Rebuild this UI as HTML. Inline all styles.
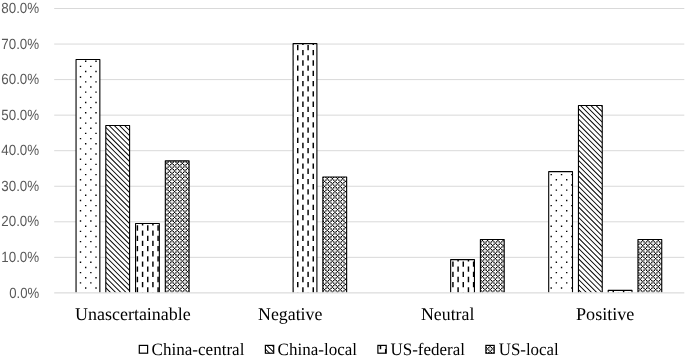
<!DOCTYPE html>
<html><head><meta charset="utf-8"><title>Chart</title>
<style>html,body{margin:0;padding:0;background:#fff}svg{display:block;filter:grayscale(1)}text{text-rendering:geometricPrecision}
.ax{font-family:"Liberation Sans",sans-serif;font-size:14.8px;fill:#595959}
.cat{font-family:"Liberation Serif",serif;font-size:18px;fill:#000}
.leg{font-family:"Liberation Serif",serif;font-size:17.4px;fill:#000}
</style></head><body>
<svg width="685" height="359" viewBox="0 0 685 359">
<rect width="685" height="359" fill="#fff"/>
<g stroke="#d9d9d9" stroke-width="1">
<line x1="54.2" x2="684.3" y1="8.50" y2="8.50"/>
<line x1="54.2" x2="684.3" y1="44.05" y2="44.05"/>
<line x1="54.2" x2="684.3" y1="79.60" y2="79.60"/>
<line x1="54.2" x2="684.3" y1="115.15" y2="115.15"/>
<line x1="54.2" x2="684.3" y1="150.70" y2="150.70"/>
<line x1="54.2" x2="684.3" y1="186.25" y2="186.25"/>
<line x1="54.2" x2="684.3" y1="221.80" y2="221.80"/>
<line x1="54.2" x2="684.3" y1="257.35" y2="257.35"/>
</g>
<rect x="76.05" y="59.55" width="23.8" height="232.9" fill="#fff"/>
<path d="M84.98 60.55h1.39v1.39h-1.39zM95.32 60.55h1.39v1.39h-1.39zM79.8 65.71h1.39v1.39h-1.39zM84.98 70.86h1.39v1.39h-1.39zM90.15 65.71h1.39v1.39h-1.39zM95.32 70.86h1.39v1.39h-1.39zM79.8 76.02h1.39v1.39h-1.39zM84.98 81.17h1.39v1.39h-1.39zM90.15 76.02h1.39v1.39h-1.39zM95.32 81.17h1.39v1.39h-1.39zM79.8 86.33h1.39v1.39h-1.39zM84.98 91.48h1.39v1.39h-1.39zM90.15 86.33h1.39v1.39h-1.39zM95.32 91.48h1.39v1.39h-1.39zM79.8 96.64h1.39v1.39h-1.39zM84.98 101.79h1.39v1.39h-1.39zM90.15 96.64h1.39v1.39h-1.39zM95.32 101.79h1.39v1.39h-1.39zM79.8 106.95h1.39v1.39h-1.39zM84.98 112.1h1.39v1.39h-1.39zM90.15 106.95h1.39v1.39h-1.39zM95.32 112.1h1.39v1.39h-1.39zM79.8 117.26h1.39v1.39h-1.39zM84.98 122.41h1.39v1.39h-1.39zM90.15 117.26h1.39v1.39h-1.39zM95.32 122.41h1.39v1.39h-1.39zM79.8 127.57h1.39v1.39h-1.39zM84.98 132.72h1.39v1.39h-1.39zM90.15 127.57h1.39v1.39h-1.39zM95.32 132.72h1.39v1.39h-1.39zM79.8 137.88h1.39v1.39h-1.39zM84.98 143.03h1.39v1.39h-1.39zM90.15 137.88h1.39v1.39h-1.39zM95.32 143.03h1.39v1.39h-1.39zM79.8 148.19h1.39v1.39h-1.39zM84.98 153.34h1.39v1.39h-1.39zM90.15 148.19h1.39v1.39h-1.39zM95.32 153.34h1.39v1.39h-1.39zM79.8 158.5h1.39v1.39h-1.39zM84.98 163.65h1.39v1.39h-1.39zM90.15 158.5h1.39v1.39h-1.39zM95.32 163.65h1.39v1.39h-1.39zM79.8 168.81h1.39v1.39h-1.39zM84.98 173.96h1.39v1.39h-1.39zM90.15 168.81h1.39v1.39h-1.39zM95.32 173.96h1.39v1.39h-1.39zM79.8 179.12h1.39v1.39h-1.39zM84.98 184.27h1.39v1.39h-1.39zM90.15 179.12h1.39v1.39h-1.39zM95.32 184.27h1.39v1.39h-1.39zM79.8 189.43h1.39v1.39h-1.39zM84.98 194.58h1.39v1.39h-1.39zM90.15 189.43h1.39v1.39h-1.39zM95.32 194.58h1.39v1.39h-1.39zM79.8 199.74h1.39v1.39h-1.39zM84.98 204.89h1.39v1.39h-1.39zM90.15 199.74h1.39v1.39h-1.39zM95.32 204.89h1.39v1.39h-1.39zM79.8 210.05h1.39v1.39h-1.39zM84.98 215.2h1.39v1.39h-1.39zM90.15 210.05h1.39v1.39h-1.39zM95.32 215.2h1.39v1.39h-1.39zM79.8 220.36h1.39v1.39h-1.39zM84.98 225.51h1.39v1.39h-1.39zM90.15 220.36h1.39v1.39h-1.39zM95.32 225.51h1.39v1.39h-1.39zM79.8 230.67h1.39v1.39h-1.39zM84.98 235.82h1.39v1.39h-1.39zM90.15 230.67h1.39v1.39h-1.39zM95.32 235.82h1.39v1.39h-1.39zM79.8 240.98h1.39v1.39h-1.39zM84.98 246.13h1.39v1.39h-1.39zM90.15 240.98h1.39v1.39h-1.39zM95.32 246.13h1.39v1.39h-1.39zM79.8 251.29h1.39v1.39h-1.39zM84.98 256.44h1.39v1.39h-1.39zM90.15 251.29h1.39v1.39h-1.39zM95.32 256.44h1.39v1.39h-1.39zM79.8 261.6h1.39v1.39h-1.39zM84.98 266.75h1.39v1.39h-1.39zM90.15 261.6h1.39v1.39h-1.39zM95.32 266.75h1.39v1.39h-1.39zM79.8 271.91h1.39v1.39h-1.39zM84.98 277.06h1.39v1.39h-1.39zM90.15 271.91h1.39v1.39h-1.39zM95.32 277.06h1.39v1.39h-1.39zM79.8 282.22h1.39v1.39h-1.39zM84.98 287.37h1.39v1.39h-1.39zM90.15 282.22h1.39v1.39h-1.39zM95.32 287.37h1.39v1.39h-1.39z" fill="#000"/>
<path d="M76.05 292.45V59.55H99.85V292.45" fill="none" stroke="#000" stroke-width="1.1" stroke-linejoin="round"/>
<rect x="105.8" y="125.55" width="23.8" height="166.9" fill="#fff"/>
<clipPath id="c1"><rect x="105.8" y="125.55" width="23.8" height="166.9"/></clipPath>
<path clip-path="url(#c1)" d="M-69.43 123.55L-68.08 123.55L102.82 294.45L101.47 294.45zM-64.25 123.55L-62.91 123.55L107.99 294.45L106.65 294.45zM-59.08 123.55L-57.74 123.55L113.16 294.45L111.82 294.45zM-53.91 123.55L-52.57 123.55L118.33 294.45L116.99 294.45zM-48.74 123.55L-47.39 123.55L123.51 294.45L122.16 294.45zM-43.56 123.55L-42.22 123.55L128.68 294.45L127.34 294.45zM-38.39 123.55L-37.05 123.55L133.85 294.45L132.51 294.45zM-33.22 123.55L-31.88 123.55L139.02 294.45L137.68 294.45zM-28.05 123.55L-26.7 123.55L144.2 294.45L142.85 294.45zM-22.87 123.55L-21.53 123.55L149.37 294.45L148.03 294.45zM-17.7 123.55L-16.36 123.55L154.54 294.45L153.2 294.45zM-12.53 123.55L-11.19 123.55L159.71 294.45L158.37 294.45zM-7.36 123.55L-6.01 123.55L164.89 294.45L163.54 294.45zM-2.18 123.55L-0.84 123.55L170.06 294.45L168.72 294.45zM2.99 123.55L4.33 123.55L175.23 294.45L173.89 294.45zM8.16 123.55L9.5 123.55L180.4 294.45L179.06 294.45zM13.33 123.55L14.68 123.55L185.58 294.45L184.23 294.45zM18.51 123.55L19.85 123.55L190.75 294.45L189.41 294.45zM23.68 123.55L25.02 123.55L195.92 294.45L194.58 294.45zM28.85 123.55L30.19 123.55L201.09 294.45L199.75 294.45zM34.02 123.55L35.37 123.55L206.27 294.45L204.92 294.45zM39.2 123.55L40.54 123.55L211.44 294.45L210.1 294.45zM44.37 123.55L45.71 123.55L216.61 294.45L215.27 294.45zM49.54 123.55L50.88 123.55L221.78 294.45L220.44 294.45zM54.71 123.55L56.06 123.55L226.96 294.45L225.61 294.45zM59.89 123.55L61.23 123.55L232.13 294.45L230.79 294.45zM65.06 123.55L66.4 123.55L237.3 294.45L235.96 294.45zM70.23 123.55L71.57 123.55L242.47 294.45L241.13 294.45zM75.4 123.55L76.75 123.55L247.65 294.45L246.3 294.45zM80.58 123.55L81.92 123.55L252.82 294.45L251.48 294.45zM85.75 123.55L87.09 123.55L257.99 294.45L256.65 294.45zM90.92 123.55L92.26 123.55L263.16 294.45L261.82 294.45zM96.09 123.55L97.44 123.55L268.34 294.45L266.99 294.45zM101.27 123.55L102.61 123.55L273.51 294.45L272.17 294.45zM106.44 123.55L107.78 123.55L278.68 294.45L277.34 294.45zM111.61 123.55L112.95 123.55L283.85 294.45L282.51 294.45zM116.78 123.55L118.13 123.55L289.03 294.45L287.68 294.45zM121.96 123.55L123.3 123.55L294.2 294.45L292.86 294.45zM127.13 123.55L128.47 123.55L299.37 294.45L298.03 294.45zM132.3 123.55L133.64 123.55L304.54 294.45L303.2 294.45z" fill="#000"/>
<path d="M105.8 292.45V125.55H129.6V292.45" fill="none" stroke="#000" stroke-width="1.1" stroke-linejoin="round"/>
<rect x="135.55" y="223.55" width="23.8" height="68.9" fill="#fff"/>
<path d="M141.85 223.55h1.45v1.93h-1.45zM152.19 223.55h1.45v1.93h-1.45zM136.67 225.32h1.45v5.31h-1.45zM141.85 230.47h1.45v5.31h-1.45zM147.02 225.32h1.45v5.31h-1.45zM152.19 230.47h1.45v5.31h-1.45zM157.36 225.32h1.45v5.31h-1.45zM136.67 235.63h1.45v5.31h-1.45zM141.85 240.78h1.45v5.31h-1.45zM147.02 235.63h1.45v5.31h-1.45zM152.19 240.78h1.45v5.31h-1.45zM157.36 235.63h1.45v5.31h-1.45zM136.67 245.94h1.45v5.31h-1.45zM141.85 251.09h1.45v5.32h-1.45zM147.02 245.94h1.45v5.31h-1.45zM152.19 251.09h1.45v5.32h-1.45zM157.36 245.94h1.45v5.31h-1.45zM136.67 256.25h1.45v5.31h-1.45zM141.85 261.4h1.45v5.31h-1.45zM147.02 256.25h1.45v5.31h-1.45zM152.19 261.4h1.45v5.31h-1.45zM157.36 256.25h1.45v5.31h-1.45zM136.67 266.56h1.45v5.31h-1.45zM141.85 271.71h1.45v5.31h-1.45zM147.02 266.56h1.45v5.31h-1.45zM152.19 271.71h1.45v5.31h-1.45zM157.36 266.56h1.45v5.31h-1.45zM136.67 276.87h1.45v5.31h-1.45zM141.85 282.02h1.45v5.31h-1.45zM147.02 276.87h1.45v5.31h-1.45zM152.19 282.02h1.45v5.31h-1.45zM157.36 276.87h1.45v5.31h-1.45zM136.67 287.18h1.45v5.27h-1.45zM141.85 292.33h1.45v0.12h-1.45zM147.02 287.18h1.45v5.27h-1.45zM152.19 292.33h1.45v0.12h-1.45zM157.36 287.18h1.45v5.27h-1.45z" fill="#000"/>
<path d="M135.55 292.45V223.55H159.35V292.45" fill="none" stroke="#000" stroke-width="1.1" stroke-linejoin="round"/>
<rect x="165.3" y="160.85" width="23.8" height="131.6" fill="#fff"/>
<path d="M165.3 161.33h0.92v1.3h-0.92zM166.21 162.62h1.3v1.3h-1.3zM167.51 163.91h1.3v1.3h-1.3zM167.51 161.33h1.3v1.3h-1.3zM165.3 163.91h0.92v1.3h-0.92zM168.8 160.85h1.3v0.49h-1.3zM170.09 161.33h1.3v1.3h-1.3zM171.38 162.62h1.3v1.3h-1.3zM172.68 163.91h1.3v1.3h-1.3zM172.68 161.33h1.3v1.3h-1.3zM170.09 163.91h1.3v1.3h-1.3zM173.97 160.85h1.3v0.49h-1.3zM175.26 161.33h1.3v1.3h-1.3zM176.56 162.62h1.3v1.3h-1.3zM177.85 163.91h1.3v1.3h-1.3zM177.85 161.33h1.3v1.3h-1.3zM175.26 163.91h1.3v1.3h-1.3zM179.14 160.85h1.3v0.49h-1.3zM180.44 161.33h1.3v1.3h-1.3zM181.73 162.62h1.3v1.3h-1.3zM183.02 163.91h1.3v1.3h-1.3zM183.02 161.33h1.3v1.3h-1.3zM180.44 163.91h1.3v1.3h-1.3zM184.32 160.85h1.3v0.49h-1.3zM185.61 161.33h1.3v1.3h-1.3zM186.9 162.62h1.3v1.3h-1.3zM188.2 163.91h0.9v1.3h-0.9zM188.2 161.33h0.9v1.3h-0.9zM185.61 163.91h1.3v1.3h-1.3zM165.3 166.49h0.92v1.3h-0.92zM166.21 167.78h1.3v1.3h-1.3zM167.51 169.07h1.3v1.3h-1.3zM167.51 166.49h1.3v1.3h-1.3zM165.3 169.07h0.92v1.3h-0.92zM168.8 165.2h1.3v1.3h-1.3zM170.09 166.49h1.3v1.3h-1.3zM171.38 167.78h1.3v1.3h-1.3zM172.68 169.07h1.3v1.3h-1.3zM172.68 166.49h1.3v1.3h-1.3zM170.09 169.07h1.3v1.3h-1.3zM173.97 165.2h1.3v1.3h-1.3zM175.26 166.49h1.3v1.3h-1.3zM176.56 167.78h1.3v1.3h-1.3zM177.85 169.07h1.3v1.3h-1.3zM177.85 166.49h1.3v1.3h-1.3zM175.26 169.07h1.3v1.3h-1.3zM179.14 165.2h1.3v1.3h-1.3zM180.44 166.49h1.3v1.3h-1.3zM181.73 167.78h1.3v1.3h-1.3zM183.02 169.07h1.3v1.3h-1.3zM183.02 166.49h1.3v1.3h-1.3zM180.44 169.07h1.3v1.3h-1.3zM184.32 165.2h1.3v1.3h-1.3zM185.61 166.49h1.3v1.3h-1.3zM186.9 167.78h1.3v1.3h-1.3zM188.2 169.07h0.9v1.3h-0.9zM188.2 166.49h0.9v1.3h-0.9zM185.61 169.07h1.3v1.3h-1.3zM165.3 171.64h0.92v1.3h-0.92zM166.21 172.93h1.3v1.3h-1.3zM167.51 174.22h1.3v1.3h-1.3zM167.51 171.64h1.3v1.3h-1.3zM165.3 174.22h0.92v1.3h-0.92zM168.8 170.36h1.3v1.3h-1.3zM170.09 171.64h1.3v1.3h-1.3zM171.38 172.93h1.3v1.3h-1.3zM172.68 174.22h1.3v1.3h-1.3zM172.68 171.64h1.3v1.3h-1.3zM170.09 174.22h1.3v1.3h-1.3zM173.97 170.36h1.3v1.3h-1.3zM175.26 171.64h1.3v1.3h-1.3zM176.56 172.93h1.3v1.3h-1.3zM177.85 174.22h1.3v1.3h-1.3zM177.85 171.64h1.3v1.3h-1.3zM175.26 174.22h1.3v1.3h-1.3zM179.14 170.36h1.3v1.3h-1.3zM180.44 171.64h1.3v1.3h-1.3zM181.73 172.93h1.3v1.3h-1.3zM183.02 174.22h1.3v1.3h-1.3zM183.02 171.64h1.3v1.3h-1.3zM180.44 174.22h1.3v1.3h-1.3zM184.32 170.36h1.3v1.3h-1.3zM185.61 171.64h1.3v1.3h-1.3zM186.9 172.93h1.3v1.3h-1.3zM188.2 174.22h0.9v1.3h-0.9zM188.2 171.64h0.9v1.3h-0.9zM185.61 174.22h1.3v1.3h-1.3zM165.3 176.8h0.92v1.3h-0.92zM166.21 178.09h1.3v1.3h-1.3zM167.51 179.38h1.3v1.3h-1.3zM167.51 176.8h1.3v1.3h-1.3zM165.3 179.38h0.92v1.3h-0.92zM168.8 175.51h1.3v1.3h-1.3zM170.09 176.8h1.3v1.3h-1.3zM171.38 178.09h1.3v1.3h-1.3zM172.68 179.38h1.3v1.3h-1.3zM172.68 176.8h1.3v1.3h-1.3zM170.09 179.38h1.3v1.3h-1.3zM173.97 175.51h1.3v1.3h-1.3zM175.26 176.8h1.3v1.3h-1.3zM176.56 178.09h1.3v1.3h-1.3zM177.85 179.38h1.3v1.3h-1.3zM177.85 176.8h1.3v1.3h-1.3zM175.26 179.38h1.3v1.3h-1.3zM179.14 175.51h1.3v1.3h-1.3zM180.44 176.8h1.3v1.3h-1.3zM181.73 178.09h1.3v1.3h-1.3zM183.02 179.38h1.3v1.3h-1.3zM183.02 176.8h1.3v1.3h-1.3zM180.44 179.38h1.3v1.3h-1.3zM184.32 175.51h1.3v1.3h-1.3zM185.61 176.8h1.3v1.3h-1.3zM186.9 178.09h1.3v1.3h-1.3zM188.2 179.38h0.9v1.3h-0.9zM188.2 176.8h0.9v1.3h-0.9zM185.61 179.38h1.3v1.3h-1.3zM165.3 181.95h0.92v1.3h-0.92zM166.21 183.24h1.3v1.3h-1.3zM167.51 184.53h1.3v1.3h-1.3zM167.51 181.95h1.3v1.3h-1.3zM165.3 184.53h0.92v1.3h-0.92zM168.8 180.67h1.3v1.3h-1.3zM170.09 181.95h1.3v1.3h-1.3zM171.38 183.24h1.3v1.3h-1.3zM172.68 184.53h1.3v1.3h-1.3zM172.68 181.95h1.3v1.3h-1.3zM170.09 184.53h1.3v1.3h-1.3zM173.97 180.67h1.3v1.3h-1.3zM175.26 181.95h1.3v1.3h-1.3zM176.56 183.24h1.3v1.3h-1.3zM177.85 184.53h1.3v1.3h-1.3zM177.85 181.95h1.3v1.3h-1.3zM175.26 184.53h1.3v1.3h-1.3zM179.14 180.67h1.3v1.3h-1.3zM180.44 181.95h1.3v1.3h-1.3zM181.73 183.24h1.3v1.3h-1.3zM183.02 184.53h1.3v1.3h-1.3zM183.02 181.95h1.3v1.3h-1.3zM180.44 184.53h1.3v1.3h-1.3zM184.32 180.67h1.3v1.3h-1.3zM185.61 181.95h1.3v1.3h-1.3zM186.9 183.24h1.3v1.3h-1.3zM188.2 184.53h0.9v1.3h-0.9zM188.2 181.95h0.9v1.3h-0.9zM185.61 184.53h1.3v1.3h-1.3zM165.3 187.11h0.92v1.3h-0.92zM166.21 188.4h1.3v1.3h-1.3zM167.51 189.69h1.3v1.3h-1.3zM167.51 187.11h1.3v1.3h-1.3zM165.3 189.69h0.92v1.3h-0.92zM168.8 185.82h1.3v1.3h-1.3zM170.09 187.11h1.3v1.3h-1.3zM171.38 188.4h1.3v1.3h-1.3zM172.68 189.69h1.3v1.3h-1.3zM172.68 187.11h1.3v1.3h-1.3zM170.09 189.69h1.3v1.3h-1.3zM173.97 185.82h1.3v1.3h-1.3zM175.26 187.11h1.3v1.3h-1.3zM176.56 188.4h1.3v1.3h-1.3zM177.85 189.69h1.3v1.3h-1.3zM177.85 187.11h1.3v1.3h-1.3zM175.26 189.69h1.3v1.3h-1.3zM179.14 185.82h1.3v1.3h-1.3zM180.44 187.11h1.3v1.3h-1.3zM181.73 188.4h1.3v1.3h-1.3zM183.02 189.69h1.3v1.3h-1.3zM183.02 187.11h1.3v1.3h-1.3zM180.44 189.69h1.3v1.3h-1.3zM184.32 185.82h1.3v1.3h-1.3zM185.61 187.11h1.3v1.3h-1.3zM186.9 188.4h1.3v1.3h-1.3zM188.2 189.69h0.9v1.3h-0.9zM188.2 187.11h0.9v1.3h-0.9zM185.61 189.69h1.3v1.3h-1.3zM165.3 192.26h0.92v1.3h-0.92zM166.21 193.55h1.3v1.3h-1.3zM167.51 194.84h1.3v1.3h-1.3zM167.51 192.26h1.3v1.3h-1.3zM165.3 194.84h0.92v1.3h-0.92zM168.8 190.98h1.3v1.3h-1.3zM170.09 192.26h1.3v1.3h-1.3zM171.38 193.55h1.3v1.3h-1.3zM172.68 194.84h1.3v1.3h-1.3zM172.68 192.26h1.3v1.3h-1.3zM170.09 194.84h1.3v1.3h-1.3zM173.97 190.98h1.3v1.3h-1.3zM175.26 192.26h1.3v1.3h-1.3zM176.56 193.55h1.3v1.3h-1.3zM177.85 194.84h1.3v1.3h-1.3zM177.85 192.26h1.3v1.3h-1.3zM175.26 194.84h1.3v1.3h-1.3zM179.14 190.98h1.3v1.3h-1.3zM180.44 192.26h1.3v1.3h-1.3zM181.73 193.55h1.3v1.3h-1.3zM183.02 194.84h1.3v1.3h-1.3zM183.02 192.26h1.3v1.3h-1.3zM180.44 194.84h1.3v1.3h-1.3zM184.32 190.98h1.3v1.3h-1.3zM185.61 192.26h1.3v1.3h-1.3zM186.9 193.55h1.3v1.3h-1.3zM188.2 194.84h0.9v1.3h-0.9zM188.2 192.26h0.9v1.3h-0.9zM185.61 194.84h1.3v1.3h-1.3zM165.3 197.42h0.92v1.3h-0.92zM166.21 198.71h1.3v1.3h-1.3zM167.51 200h1.3v1.3h-1.3zM167.51 197.42h1.3v1.3h-1.3zM165.3 200h0.92v1.3h-0.92zM168.8 196.13h1.3v1.3h-1.3zM170.09 197.42h1.3v1.3h-1.3zM171.38 198.71h1.3v1.3h-1.3zM172.68 200h1.3v1.3h-1.3zM172.68 197.42h1.3v1.3h-1.3zM170.09 200h1.3v1.3h-1.3zM173.97 196.13h1.3v1.3h-1.3zM175.26 197.42h1.3v1.3h-1.3zM176.56 198.71h1.3v1.3h-1.3zM177.85 200h1.3v1.3h-1.3zM177.85 197.42h1.3v1.3h-1.3zM175.26 200h1.3v1.3h-1.3zM179.14 196.13h1.3v1.3h-1.3zM180.44 197.42h1.3v1.3h-1.3zM181.73 198.71h1.3v1.3h-1.3zM183.02 200h1.3v1.3h-1.3zM183.02 197.42h1.3v1.3h-1.3zM180.44 200h1.3v1.3h-1.3zM184.32 196.13h1.3v1.3h-1.3zM185.61 197.42h1.3v1.3h-1.3zM186.9 198.71h1.3v1.3h-1.3zM188.2 200h0.9v1.3h-0.9zM188.2 197.42h0.9v1.3h-0.9zM185.61 200h1.3v1.3h-1.3zM165.3 202.57h0.92v1.3h-0.92zM166.21 203.86h1.3v1.3h-1.3zM167.51 205.15h1.3v1.3h-1.3zM167.51 202.57h1.3v1.3h-1.3zM165.3 205.15h0.92v1.3h-0.92zM168.8 201.29h1.3v1.3h-1.3zM170.09 202.57h1.3v1.3h-1.3zM171.38 203.86h1.3v1.3h-1.3zM172.68 205.15h1.3v1.3h-1.3zM172.68 202.57h1.3v1.3h-1.3zM170.09 205.15h1.3v1.3h-1.3zM173.97 201.29h1.3v1.3h-1.3zM175.26 202.57h1.3v1.3h-1.3zM176.56 203.86h1.3v1.3h-1.3zM177.85 205.15h1.3v1.3h-1.3zM177.85 202.57h1.3v1.3h-1.3zM175.26 205.15h1.3v1.3h-1.3zM179.14 201.29h1.3v1.3h-1.3zM180.44 202.57h1.3v1.3h-1.3zM181.73 203.86h1.3v1.3h-1.3zM183.02 205.15h1.3v1.3h-1.3zM183.02 202.57h1.3v1.3h-1.3zM180.44 205.15h1.3v1.3h-1.3zM184.32 201.29h1.3v1.3h-1.3zM185.61 202.57h1.3v1.3h-1.3zM186.9 203.86h1.3v1.3h-1.3zM188.2 205.15h0.9v1.3h-0.9zM188.2 202.57h0.9v1.3h-0.9zM185.61 205.15h1.3v1.3h-1.3zM165.3 207.73h0.92v1.3h-0.92zM166.21 209.02h1.3v1.3h-1.3zM167.51 210.31h1.3v1.3h-1.3zM167.51 207.73h1.3v1.3h-1.3zM165.3 210.31h0.92v1.3h-0.92zM168.8 206.44h1.3v1.3h-1.3zM170.09 207.73h1.3v1.3h-1.3zM171.38 209.02h1.3v1.3h-1.3zM172.68 210.31h1.3v1.3h-1.3zM172.68 207.73h1.3v1.3h-1.3zM170.09 210.31h1.3v1.3h-1.3zM173.97 206.44h1.3v1.3h-1.3zM175.26 207.73h1.3v1.3h-1.3zM176.56 209.02h1.3v1.3h-1.3zM177.85 210.31h1.3v1.3h-1.3zM177.85 207.73h1.3v1.3h-1.3zM175.26 210.31h1.3v1.3h-1.3zM179.14 206.44h1.3v1.3h-1.3zM180.44 207.73h1.3v1.3h-1.3zM181.73 209.02h1.3v1.3h-1.3zM183.02 210.31h1.3v1.3h-1.3zM183.02 207.73h1.3v1.3h-1.3zM180.44 210.31h1.3v1.3h-1.3zM184.32 206.44h1.3v1.3h-1.3zM185.61 207.73h1.3v1.3h-1.3zM186.9 209.02h1.3v1.3h-1.3zM188.2 210.31h0.9v1.3h-0.9zM188.2 207.73h0.9v1.3h-0.9zM185.61 210.31h1.3v1.3h-1.3zM165.3 212.88h0.92v1.3h-0.92zM166.21 214.17h1.3v1.3h-1.3zM167.51 215.46h1.3v1.3h-1.3zM167.51 212.88h1.3v1.3h-1.3zM165.3 215.46h0.92v1.3h-0.92zM168.8 211.6h1.3v1.3h-1.3zM170.09 212.88h1.3v1.3h-1.3zM171.38 214.17h1.3v1.3h-1.3zM172.68 215.46h1.3v1.3h-1.3zM172.68 212.88h1.3v1.3h-1.3zM170.09 215.46h1.3v1.3h-1.3zM173.97 211.6h1.3v1.3h-1.3zM175.26 212.88h1.3v1.3h-1.3zM176.56 214.17h1.3v1.3h-1.3zM177.85 215.46h1.3v1.3h-1.3zM177.85 212.88h1.3v1.3h-1.3zM175.26 215.46h1.3v1.3h-1.3zM179.14 211.6h1.3v1.3h-1.3zM180.44 212.88h1.3v1.3h-1.3zM181.73 214.17h1.3v1.3h-1.3zM183.02 215.46h1.3v1.3h-1.3zM183.02 212.88h1.3v1.3h-1.3zM180.44 215.46h1.3v1.3h-1.3zM184.32 211.6h1.3v1.3h-1.3zM185.61 212.88h1.3v1.3h-1.3zM186.9 214.17h1.3v1.3h-1.3zM188.2 215.46h0.9v1.3h-0.9zM188.2 212.88h0.9v1.3h-0.9zM185.61 215.46h1.3v1.3h-1.3zM165.3 218.04h0.92v1.3h-0.92zM166.21 219.33h1.3v1.3h-1.3zM167.51 220.62h1.3v1.3h-1.3zM167.51 218.04h1.3v1.3h-1.3zM165.3 220.62h0.92v1.3h-0.92zM168.8 216.75h1.3v1.3h-1.3zM170.09 218.04h1.3v1.3h-1.3zM171.38 219.33h1.3v1.3h-1.3zM172.68 220.62h1.3v1.3h-1.3zM172.68 218.04h1.3v1.3h-1.3zM170.09 220.62h1.3v1.3h-1.3zM173.97 216.75h1.3v1.3h-1.3zM175.26 218.04h1.3v1.3h-1.3zM176.56 219.33h1.3v1.3h-1.3zM177.85 220.62h1.3v1.3h-1.3zM177.85 218.04h1.3v1.3h-1.3zM175.26 220.62h1.3v1.3h-1.3zM179.14 216.75h1.3v1.3h-1.3zM180.44 218.04h1.3v1.3h-1.3zM181.73 219.33h1.3v1.3h-1.3zM183.02 220.62h1.3v1.3h-1.3zM183.02 218.04h1.3v1.3h-1.3zM180.44 220.62h1.3v1.3h-1.3zM184.32 216.75h1.3v1.3h-1.3zM185.61 218.04h1.3v1.3h-1.3zM186.9 219.33h1.3v1.3h-1.3zM188.2 220.62h0.9v1.3h-0.9zM188.2 218.04h0.9v1.3h-0.9zM185.61 220.62h1.3v1.3h-1.3zM165.3 223.19h0.92v1.3h-0.92zM166.21 224.48h1.3v1.3h-1.3zM167.51 225.77h1.3v1.3h-1.3zM167.51 223.19h1.3v1.3h-1.3zM165.3 225.77h0.92v1.3h-0.92zM168.8 221.91h1.3v1.3h-1.3zM170.09 223.19h1.3v1.3h-1.3zM171.38 224.48h1.3v1.3h-1.3zM172.68 225.77h1.3v1.3h-1.3zM172.68 223.19h1.3v1.3h-1.3zM170.09 225.77h1.3v1.3h-1.3zM173.97 221.91h1.3v1.3h-1.3zM175.26 223.19h1.3v1.3h-1.3zM176.56 224.48h1.3v1.3h-1.3zM177.85 225.77h1.3v1.3h-1.3zM177.85 223.19h1.3v1.3h-1.3zM175.26 225.77h1.3v1.3h-1.3zM179.14 221.91h1.3v1.3h-1.3zM180.44 223.19h1.3v1.3h-1.3zM181.73 224.48h1.3v1.3h-1.3zM183.02 225.77h1.3v1.3h-1.3zM183.02 223.19h1.3v1.3h-1.3zM180.44 225.77h1.3v1.3h-1.3zM184.32 221.91h1.3v1.3h-1.3zM185.61 223.19h1.3v1.3h-1.3zM186.9 224.48h1.3v1.3h-1.3zM188.2 225.77h0.9v1.3h-0.9zM188.2 223.19h0.9v1.3h-0.9zM185.61 225.77h1.3v1.3h-1.3zM165.3 228.35h0.92v1.3h-0.92zM166.21 229.64h1.3v1.3h-1.3zM167.51 230.93h1.3v1.3h-1.3zM167.51 228.35h1.3v1.3h-1.3zM165.3 230.93h0.92v1.3h-0.92zM168.8 227.06h1.3v1.3h-1.3zM170.09 228.35h1.3v1.3h-1.3zM171.38 229.64h1.3v1.3h-1.3zM172.68 230.93h1.3v1.3h-1.3zM172.68 228.35h1.3v1.3h-1.3zM170.09 230.93h1.3v1.3h-1.3zM173.97 227.06h1.3v1.3h-1.3zM175.26 228.35h1.3v1.3h-1.3zM176.56 229.64h1.3v1.3h-1.3zM177.85 230.93h1.3v1.3h-1.3zM177.85 228.35h1.3v1.3h-1.3zM175.26 230.93h1.3v1.3h-1.3zM179.14 227.06h1.3v1.3h-1.3zM180.44 228.35h1.3v1.3h-1.3zM181.73 229.64h1.3v1.3h-1.3zM183.02 230.93h1.3v1.3h-1.3zM183.02 228.35h1.3v1.3h-1.3zM180.44 230.93h1.3v1.3h-1.3zM184.32 227.06h1.3v1.3h-1.3zM185.61 228.35h1.3v1.3h-1.3zM186.9 229.64h1.3v1.3h-1.3zM188.2 230.93h0.9v1.3h-0.9zM188.2 228.35h0.9v1.3h-0.9zM185.61 230.93h1.3v1.3h-1.3zM165.3 233.5h0.92v1.3h-0.92zM166.21 234.79h1.3v1.3h-1.3zM167.51 236.08h1.3v1.3h-1.3zM167.51 233.5h1.3v1.3h-1.3zM165.3 236.08h0.92v1.3h-0.92zM168.8 232.22h1.3v1.3h-1.3zM170.09 233.5h1.3v1.3h-1.3zM171.38 234.79h1.3v1.3h-1.3zM172.68 236.08h1.3v1.3h-1.3zM172.68 233.5h1.3v1.3h-1.3zM170.09 236.08h1.3v1.3h-1.3zM173.97 232.22h1.3v1.3h-1.3zM175.26 233.5h1.3v1.3h-1.3zM176.56 234.79h1.3v1.3h-1.3zM177.85 236.08h1.3v1.3h-1.3zM177.85 233.5h1.3v1.3h-1.3zM175.26 236.08h1.3v1.3h-1.3zM179.14 232.22h1.3v1.3h-1.3zM180.44 233.5h1.3v1.3h-1.3zM181.73 234.79h1.3v1.3h-1.3zM183.02 236.08h1.3v1.3h-1.3zM183.02 233.5h1.3v1.3h-1.3zM180.44 236.08h1.3v1.3h-1.3zM184.32 232.22h1.3v1.3h-1.3zM185.61 233.5h1.3v1.3h-1.3zM186.9 234.79h1.3v1.3h-1.3zM188.2 236.08h0.9v1.3h-0.9zM188.2 233.5h0.9v1.3h-0.9zM185.61 236.08h1.3v1.3h-1.3zM165.3 238.66h0.92v1.3h-0.92zM166.21 239.95h1.3v1.3h-1.3zM167.51 241.24h1.3v1.3h-1.3zM167.51 238.66h1.3v1.3h-1.3zM165.3 241.24h0.92v1.3h-0.92zM168.8 237.37h1.3v1.3h-1.3zM170.09 238.66h1.3v1.3h-1.3zM171.38 239.95h1.3v1.3h-1.3zM172.68 241.24h1.3v1.3h-1.3zM172.68 238.66h1.3v1.3h-1.3zM170.09 241.24h1.3v1.3h-1.3zM173.97 237.37h1.3v1.3h-1.3zM175.26 238.66h1.3v1.3h-1.3zM176.56 239.95h1.3v1.3h-1.3zM177.85 241.24h1.3v1.3h-1.3zM177.85 238.66h1.3v1.3h-1.3zM175.26 241.24h1.3v1.3h-1.3zM179.14 237.37h1.3v1.3h-1.3zM180.44 238.66h1.3v1.3h-1.3zM181.73 239.95h1.3v1.3h-1.3zM183.02 241.24h1.3v1.3h-1.3zM183.02 238.66h1.3v1.3h-1.3zM180.44 241.24h1.3v1.3h-1.3zM184.32 237.37h1.3v1.3h-1.3zM185.61 238.66h1.3v1.3h-1.3zM186.9 239.95h1.3v1.3h-1.3zM188.2 241.24h0.9v1.3h-0.9zM188.2 238.66h0.9v1.3h-0.9zM185.61 241.24h1.3v1.3h-1.3zM165.3 243.81h0.92v1.3h-0.92zM166.21 245.1h1.3v1.3h-1.3zM167.51 246.39h1.3v1.3h-1.3zM167.51 243.81h1.3v1.3h-1.3zM165.3 246.39h0.92v1.3h-0.92zM168.8 242.53h1.3v1.3h-1.3zM170.09 243.81h1.3v1.3h-1.3zM171.38 245.1h1.3v1.3h-1.3zM172.68 246.39h1.3v1.3h-1.3zM172.68 243.81h1.3v1.3h-1.3zM170.09 246.39h1.3v1.3h-1.3zM173.97 242.53h1.3v1.3h-1.3zM175.26 243.81h1.3v1.3h-1.3zM176.56 245.1h1.3v1.3h-1.3zM177.85 246.39h1.3v1.3h-1.3zM177.85 243.81h1.3v1.3h-1.3zM175.26 246.39h1.3v1.3h-1.3zM179.14 242.53h1.3v1.3h-1.3zM180.44 243.81h1.3v1.3h-1.3zM181.73 245.1h1.3v1.3h-1.3zM183.02 246.39h1.3v1.3h-1.3zM183.02 243.81h1.3v1.3h-1.3zM180.44 246.39h1.3v1.3h-1.3zM184.32 242.53h1.3v1.3h-1.3zM185.61 243.81h1.3v1.3h-1.3zM186.9 245.1h1.3v1.3h-1.3zM188.2 246.39h0.9v1.3h-0.9zM188.2 243.81h0.9v1.3h-0.9zM185.61 246.39h1.3v1.3h-1.3zM165.3 248.97h0.92v1.3h-0.92zM166.21 250.26h1.3v1.3h-1.3zM167.51 251.55h1.3v1.3h-1.3zM167.51 248.97h1.3v1.3h-1.3zM165.3 251.55h0.92v1.3h-0.92zM168.8 247.68h1.3v1.3h-1.3zM170.09 248.97h1.3v1.3h-1.3zM171.38 250.26h1.3v1.3h-1.3zM172.68 251.55h1.3v1.3h-1.3zM172.68 248.97h1.3v1.3h-1.3zM170.09 251.55h1.3v1.3h-1.3zM173.97 247.68h1.3v1.3h-1.3zM175.26 248.97h1.3v1.3h-1.3zM176.56 250.26h1.3v1.3h-1.3zM177.85 251.55h1.3v1.3h-1.3zM177.85 248.97h1.3v1.3h-1.3zM175.26 251.55h1.3v1.3h-1.3zM179.14 247.68h1.3v1.3h-1.3zM180.44 248.97h1.3v1.3h-1.3zM181.73 250.26h1.3v1.3h-1.3zM183.02 251.55h1.3v1.3h-1.3zM183.02 248.97h1.3v1.3h-1.3zM180.44 251.55h1.3v1.3h-1.3zM184.32 247.68h1.3v1.3h-1.3zM185.61 248.97h1.3v1.3h-1.3zM186.9 250.26h1.3v1.3h-1.3zM188.2 251.55h0.9v1.3h-0.9zM188.2 248.97h0.9v1.3h-0.9zM185.61 251.55h1.3v1.3h-1.3zM165.3 254.12h0.92v1.3h-0.92zM166.21 255.41h1.3v1.3h-1.3zM167.51 256.7h1.3v1.3h-1.3zM167.51 254.12h1.3v1.3h-1.3zM165.3 256.7h0.92v1.3h-0.92zM168.8 252.84h1.3v1.3h-1.3zM170.09 254.12h1.3v1.3h-1.3zM171.38 255.41h1.3v1.3h-1.3zM172.68 256.7h1.3v1.3h-1.3zM172.68 254.12h1.3v1.3h-1.3zM170.09 256.7h1.3v1.3h-1.3zM173.97 252.84h1.3v1.3h-1.3zM175.26 254.12h1.3v1.3h-1.3zM176.56 255.41h1.3v1.3h-1.3zM177.85 256.7h1.3v1.3h-1.3zM177.85 254.12h1.3v1.3h-1.3zM175.26 256.7h1.3v1.3h-1.3zM179.14 252.84h1.3v1.3h-1.3zM180.44 254.12h1.3v1.3h-1.3zM181.73 255.41h1.3v1.3h-1.3zM183.02 256.7h1.3v1.3h-1.3zM183.02 254.12h1.3v1.3h-1.3zM180.44 256.7h1.3v1.3h-1.3zM184.32 252.84h1.3v1.3h-1.3zM185.61 254.12h1.3v1.3h-1.3zM186.9 255.41h1.3v1.3h-1.3zM188.2 256.7h0.9v1.3h-0.9zM188.2 254.12h0.9v1.3h-0.9zM185.61 256.7h1.3v1.3h-1.3zM165.3 259.28h0.92v1.3h-0.92zM166.21 260.57h1.3v1.3h-1.3zM167.51 261.86h1.3v1.3h-1.3zM167.51 259.28h1.3v1.3h-1.3zM165.3 261.86h0.92v1.3h-0.92zM168.8 257.99h1.3v1.3h-1.3zM170.09 259.28h1.3v1.3h-1.3zM171.38 260.57h1.3v1.3h-1.3zM172.68 261.86h1.3v1.3h-1.3zM172.68 259.28h1.3v1.3h-1.3zM170.09 261.86h1.3v1.3h-1.3zM173.97 257.99h1.3v1.3h-1.3zM175.26 259.28h1.3v1.3h-1.3zM176.56 260.57h1.3v1.3h-1.3zM177.85 261.86h1.3v1.3h-1.3zM177.85 259.28h1.3v1.3h-1.3zM175.26 261.86h1.3v1.3h-1.3zM179.14 257.99h1.3v1.3h-1.3zM180.44 259.28h1.3v1.3h-1.3zM181.73 260.57h1.3v1.3h-1.3zM183.02 261.86h1.3v1.3h-1.3zM183.02 259.28h1.3v1.3h-1.3zM180.44 261.86h1.3v1.3h-1.3zM184.32 257.99h1.3v1.3h-1.3zM185.61 259.28h1.3v1.3h-1.3zM186.9 260.57h1.3v1.3h-1.3zM188.2 261.86h0.9v1.3h-0.9zM188.2 259.28h0.9v1.3h-0.9zM185.61 261.86h1.3v1.3h-1.3zM165.3 264.43h0.92v1.3h-0.92zM166.21 265.72h1.3v1.3h-1.3zM167.51 267.01h1.3v1.3h-1.3zM167.51 264.43h1.3v1.3h-1.3zM165.3 267.01h0.92v1.3h-0.92zM168.8 263.15h1.3v1.3h-1.3zM170.09 264.43h1.3v1.3h-1.3zM171.38 265.72h1.3v1.3h-1.3zM172.68 267.01h1.3v1.3h-1.3zM172.68 264.43h1.3v1.3h-1.3zM170.09 267.01h1.3v1.3h-1.3zM173.97 263.15h1.3v1.3h-1.3zM175.26 264.43h1.3v1.3h-1.3zM176.56 265.72h1.3v1.3h-1.3zM177.85 267.01h1.3v1.3h-1.3zM177.85 264.43h1.3v1.3h-1.3zM175.26 267.01h1.3v1.3h-1.3zM179.14 263.15h1.3v1.3h-1.3zM180.44 264.43h1.3v1.3h-1.3zM181.73 265.72h1.3v1.3h-1.3zM183.02 267.01h1.3v1.3h-1.3zM183.02 264.43h1.3v1.3h-1.3zM180.44 267.01h1.3v1.3h-1.3zM184.32 263.15h1.3v1.3h-1.3zM185.61 264.43h1.3v1.3h-1.3zM186.9 265.72h1.3v1.3h-1.3zM188.2 267.01h0.9v1.3h-0.9zM188.2 264.43h0.9v1.3h-0.9zM185.61 267.01h1.3v1.3h-1.3zM165.3 269.59h0.92v1.3h-0.92zM166.21 270.88h1.3v1.3h-1.3zM167.51 272.17h1.3v1.3h-1.3zM167.51 269.59h1.3v1.3h-1.3zM165.3 272.17h0.92v1.3h-0.92zM168.8 268.3h1.3v1.3h-1.3zM170.09 269.59h1.3v1.3h-1.3zM171.38 270.88h1.3v1.3h-1.3zM172.68 272.17h1.3v1.3h-1.3zM172.68 269.59h1.3v1.3h-1.3zM170.09 272.17h1.3v1.3h-1.3zM173.97 268.3h1.3v1.3h-1.3zM175.26 269.59h1.3v1.3h-1.3zM176.56 270.88h1.3v1.3h-1.3zM177.85 272.17h1.3v1.3h-1.3zM177.85 269.59h1.3v1.3h-1.3zM175.26 272.17h1.3v1.3h-1.3zM179.14 268.3h1.3v1.3h-1.3zM180.44 269.59h1.3v1.3h-1.3zM181.73 270.88h1.3v1.3h-1.3zM183.02 272.17h1.3v1.3h-1.3zM183.02 269.59h1.3v1.3h-1.3zM180.44 272.17h1.3v1.3h-1.3zM184.32 268.3h1.3v1.3h-1.3zM185.61 269.59h1.3v1.3h-1.3zM186.9 270.88h1.3v1.3h-1.3zM188.2 272.17h0.9v1.3h-0.9zM188.2 269.59h0.9v1.3h-0.9zM185.61 272.17h1.3v1.3h-1.3zM165.3 274.74h0.92v1.3h-0.92zM166.21 276.03h1.3v1.3h-1.3zM167.51 277.32h1.3v1.3h-1.3zM167.51 274.74h1.3v1.3h-1.3zM165.3 277.32h0.92v1.3h-0.92zM168.8 273.46h1.3v1.3h-1.3zM170.09 274.74h1.3v1.3h-1.3zM171.38 276.03h1.3v1.3h-1.3zM172.68 277.32h1.3v1.3h-1.3zM172.68 274.74h1.3v1.3h-1.3zM170.09 277.32h1.3v1.3h-1.3zM173.97 273.46h1.3v1.3h-1.3zM175.26 274.74h1.3v1.3h-1.3zM176.56 276.03h1.3v1.3h-1.3zM177.85 277.32h1.3v1.3h-1.3zM177.85 274.74h1.3v1.3h-1.3zM175.26 277.32h1.3v1.3h-1.3zM179.14 273.46h1.3v1.3h-1.3zM180.44 274.74h1.3v1.3h-1.3zM181.73 276.03h1.3v1.3h-1.3zM183.02 277.32h1.3v1.3h-1.3zM183.02 274.74h1.3v1.3h-1.3zM180.44 277.32h1.3v1.3h-1.3zM184.32 273.46h1.3v1.3h-1.3zM185.61 274.74h1.3v1.3h-1.3zM186.9 276.03h1.3v1.3h-1.3zM188.2 277.32h0.9v1.3h-0.9zM188.2 274.74h0.9v1.3h-0.9zM185.61 277.32h1.3v1.3h-1.3zM165.3 279.9h0.92v1.3h-0.92zM166.21 281.19h1.3v1.3h-1.3zM167.51 282.48h1.3v1.3h-1.3zM167.51 279.9h1.3v1.3h-1.3zM165.3 282.48h0.92v1.3h-0.92zM168.8 278.61h1.3v1.3h-1.3zM170.09 279.9h1.3v1.3h-1.3zM171.38 281.19h1.3v1.3h-1.3zM172.68 282.48h1.3v1.3h-1.3zM172.68 279.9h1.3v1.3h-1.3zM170.09 282.48h1.3v1.3h-1.3zM173.97 278.61h1.3v1.3h-1.3zM175.26 279.9h1.3v1.3h-1.3zM176.56 281.19h1.3v1.3h-1.3zM177.85 282.48h1.3v1.3h-1.3zM177.85 279.9h1.3v1.3h-1.3zM175.26 282.48h1.3v1.3h-1.3zM179.14 278.61h1.3v1.3h-1.3zM180.44 279.9h1.3v1.3h-1.3zM181.73 281.19h1.3v1.3h-1.3zM183.02 282.48h1.3v1.3h-1.3zM183.02 279.9h1.3v1.3h-1.3zM180.44 282.48h1.3v1.3h-1.3zM184.32 278.61h1.3v1.3h-1.3zM185.61 279.9h1.3v1.3h-1.3zM186.9 281.19h1.3v1.3h-1.3zM188.2 282.48h0.9v1.3h-0.9zM188.2 279.9h0.9v1.3h-0.9zM185.61 282.48h1.3v1.3h-1.3zM165.3 285.05h0.92v1.3h-0.92zM166.21 286.34h1.3v1.3h-1.3zM167.51 287.63h1.3v1.3h-1.3zM167.51 285.05h1.3v1.3h-1.3zM165.3 287.63h0.92v1.3h-0.92zM168.8 283.77h1.3v1.3h-1.3zM170.09 285.05h1.3v1.3h-1.3zM171.38 286.34h1.3v1.3h-1.3zM172.68 287.63h1.3v1.3h-1.3zM172.68 285.05h1.3v1.3h-1.3zM170.09 287.63h1.3v1.3h-1.3zM173.97 283.77h1.3v1.3h-1.3zM175.26 285.05h1.3v1.3h-1.3zM176.56 286.34h1.3v1.3h-1.3zM177.85 287.63h1.3v1.3h-1.3zM177.85 285.05h1.3v1.3h-1.3zM175.26 287.63h1.3v1.3h-1.3zM179.14 283.77h1.3v1.3h-1.3zM180.44 285.05h1.3v1.3h-1.3zM181.73 286.34h1.3v1.3h-1.3zM183.02 287.63h1.3v1.3h-1.3zM183.02 285.05h1.3v1.3h-1.3zM180.44 287.63h1.3v1.3h-1.3zM184.32 283.77h1.3v1.3h-1.3zM185.61 285.05h1.3v1.3h-1.3zM186.9 286.34h1.3v1.3h-1.3zM188.2 287.63h0.9v1.3h-0.9zM188.2 285.05h0.9v1.3h-0.9zM185.61 287.63h1.3v1.3h-1.3zM165.3 290.21h0.92v1.3h-0.92zM166.21 291.5h1.3v0.95h-1.3zM167.51 290.21h1.3v1.3h-1.3zM168.8 288.92h1.3v1.3h-1.3zM170.09 290.21h1.3v1.3h-1.3zM171.38 291.5h1.3v0.95h-1.3zM172.68 290.21h1.3v1.3h-1.3zM173.97 288.92h1.3v1.3h-1.3zM175.26 290.21h1.3v1.3h-1.3zM176.56 291.5h1.3v0.95h-1.3zM177.85 290.21h1.3v1.3h-1.3zM179.14 288.92h1.3v1.3h-1.3zM180.44 290.21h1.3v1.3h-1.3zM181.73 291.5h1.3v0.95h-1.3zM183.02 290.21h1.3v1.3h-1.3zM184.32 288.92h1.3v1.3h-1.3zM185.61 290.21h1.3v1.3h-1.3zM186.9 291.5h1.3v0.95h-1.3zM188.2 290.21h0.9v1.3h-0.9z" fill="#000"/>
<path d="M165.3 292.45V160.85H189.1V292.45" fill="none" stroke="#000" stroke-width="1.1" stroke-linejoin="round"/>
<rect x="293.1" y="43.65" width="23.8" height="248.8" fill="#fff"/>
<path d="M293.1 43.65h0.2v1.4h-0.2zM297.02 44.89h1.45v5.31h-1.45zM302.19 43.65h1.45v1.4h-1.45zM307.37 44.89h1.45v5.31h-1.45zM312.54 43.65h1.45v1.4h-1.45zM293.1 50.05h0.2v5.31h-0.2zM297.02 55.2h1.45v5.31h-1.45zM302.19 50.05h1.45v5.31h-1.45zM307.37 55.2h1.45v5.31h-1.45zM312.54 50.05h1.45v5.31h-1.45zM293.1 60.36h0.2v5.31h-0.2zM297.02 65.52h1.45v5.31h-1.45zM302.19 60.36h1.45v5.31h-1.45zM307.37 65.52h1.45v5.31h-1.45zM312.54 60.36h1.45v5.31h-1.45zM293.1 70.67h0.2v5.31h-0.2zM297.02 75.83h1.45v5.31h-1.45zM302.19 70.67h1.45v5.31h-1.45zM307.37 75.83h1.45v5.31h-1.45zM312.54 70.67h1.45v5.31h-1.45zM293.1 80.98h0.2v5.31h-0.2zM297.02 86.14h1.45v5.31h-1.45zM302.19 80.98h1.45v5.31h-1.45zM307.37 86.14h1.45v5.31h-1.45zM312.54 80.98h1.45v5.31h-1.45zM293.1 91.29h0.2v5.31h-0.2zM297.02 96.45h1.45v5.31h-1.45zM302.19 91.29h1.45v5.31h-1.45zM307.37 96.45h1.45v5.31h-1.45zM312.54 91.29h1.45v5.31h-1.45zM293.1 101.6h0.2v5.31h-0.2zM297.02 106.76h1.45v5.31h-1.45zM302.19 101.6h1.45v5.31h-1.45zM307.37 106.76h1.45v5.31h-1.45zM312.54 101.6h1.45v5.31h-1.45zM293.1 111.91h0.2v5.31h-0.2zM297.02 117.06h1.45v5.31h-1.45zM302.19 111.91h1.45v5.31h-1.45zM307.37 117.06h1.45v5.31h-1.45zM312.54 111.91h1.45v5.31h-1.45zM293.1 122.22h0.2v5.31h-0.2zM297.02 127.38h1.45v5.31h-1.45zM302.19 122.22h1.45v5.31h-1.45zM307.37 127.38h1.45v5.31h-1.45zM312.54 122.22h1.45v5.31h-1.45zM293.1 132.53h0.2v5.31h-0.2zM297.02 137.69h1.45v5.31h-1.45zM302.19 132.53h1.45v5.31h-1.45zM307.37 137.69h1.45v5.31h-1.45zM312.54 132.53h1.45v5.31h-1.45zM293.1 142.84h0.2v5.31h-0.2zM297.02 148h1.45v5.31h-1.45zM302.19 142.84h1.45v5.31h-1.45zM307.37 148h1.45v5.31h-1.45zM312.54 142.84h1.45v5.31h-1.45zM293.1 153.15h0.2v5.31h-0.2zM297.02 158.31h1.45v5.31h-1.45zM302.19 153.15h1.45v5.31h-1.45zM307.37 158.31h1.45v5.31h-1.45zM312.54 153.15h1.45v5.31h-1.45zM293.1 163.46h0.2v5.31h-0.2zM297.02 168.62h1.45v5.31h-1.45zM302.19 163.46h1.45v5.31h-1.45zM307.37 168.62h1.45v5.31h-1.45zM312.54 163.46h1.45v5.31h-1.45zM293.1 173.77h0.2v5.31h-0.2zM297.02 178.92h1.45v5.31h-1.45zM302.19 173.77h1.45v5.31h-1.45zM307.37 178.92h1.45v5.31h-1.45zM312.54 173.77h1.45v5.31h-1.45zM293.1 184.08h0.2v5.31h-0.2zM297.02 189.23h1.45v5.31h-1.45zM302.19 184.08h1.45v5.31h-1.45zM307.37 189.23h1.45v5.31h-1.45zM312.54 184.08h1.45v5.31h-1.45zM293.1 194.39h0.2v5.31h-0.2zM297.02 199.54h1.45v5.31h-1.45zM302.19 194.39h1.45v5.31h-1.45zM307.37 199.54h1.45v5.31h-1.45zM312.54 194.39h1.45v5.31h-1.45zM293.1 204.7h0.2v5.31h-0.2zM297.02 209.85h1.45v5.31h-1.45zM302.19 204.7h1.45v5.31h-1.45zM307.37 209.85h1.45v5.31h-1.45zM312.54 204.7h1.45v5.31h-1.45zM293.1 215.01h0.2v5.31h-0.2zM297.02 220.16h1.45v5.31h-1.45zM302.19 215.01h1.45v5.31h-1.45zM307.37 220.16h1.45v5.31h-1.45zM312.54 215.01h1.45v5.31h-1.45zM293.1 225.32h0.2v5.31h-0.2zM297.02 230.47h1.45v5.31h-1.45zM302.19 225.32h1.45v5.31h-1.45zM307.37 230.47h1.45v5.31h-1.45zM312.54 225.32h1.45v5.31h-1.45zM293.1 235.63h0.2v5.31h-0.2zM297.02 240.78h1.45v5.31h-1.45zM302.19 235.63h1.45v5.31h-1.45zM307.37 240.78h1.45v5.31h-1.45zM312.54 235.63h1.45v5.31h-1.45zM293.1 245.94h0.2v5.31h-0.2zM297.02 251.09h1.45v5.32h-1.45zM302.19 245.94h1.45v5.31h-1.45zM307.37 251.09h1.45v5.32h-1.45zM312.54 245.94h1.45v5.31h-1.45zM293.1 256.25h0.2v5.31h-0.2zM297.02 261.4h1.45v5.31h-1.45zM302.19 256.25h1.45v5.31h-1.45zM307.37 261.4h1.45v5.31h-1.45zM312.54 256.25h1.45v5.31h-1.45zM293.1 266.56h0.2v5.31h-0.2zM297.02 271.71h1.45v5.31h-1.45zM302.19 266.56h1.45v5.31h-1.45zM307.37 271.71h1.45v5.31h-1.45zM312.54 266.56h1.45v5.31h-1.45zM293.1 276.87h0.2v5.31h-0.2zM297.02 282.02h1.45v5.31h-1.45zM302.19 276.87h1.45v5.31h-1.45zM307.37 282.02h1.45v5.31h-1.45zM312.54 276.87h1.45v5.31h-1.45zM293.1 287.18h0.2v5.27h-0.2zM297.02 292.33h1.45v0.12h-1.45zM302.19 287.18h1.45v5.27h-1.45zM307.37 292.33h1.45v0.12h-1.45zM312.54 287.18h1.45v5.27h-1.45z" fill="#000"/>
<path d="M293.1 292.45V43.65H316.9V292.45" fill="none" stroke="#000" stroke-width="1.1" stroke-linejoin="round"/>
<rect x="322.85" y="176.95" width="23.8" height="115.5" fill="#fff"/>
<path d="M322.85 179.38h1.13v1.3h-1.13zM322.85 176.95h1.13v1.15h-1.13zM325.27 176.95h1.3v1.15h-1.3zM326.56 178.09h1.3v1.3h-1.3zM327.85 179.38h1.3v1.3h-1.3zM327.85 176.95h1.3v1.15h-1.3zM325.27 179.38h1.3v1.3h-1.3zM330.44 176.95h1.3v1.15h-1.3zM331.73 178.09h1.3v1.3h-1.3zM333.03 179.38h1.3v1.3h-1.3zM333.03 176.95h1.3v1.15h-1.3zM330.44 179.38h1.3v1.3h-1.3zM335.61 176.95h1.3v1.15h-1.3zM336.9 178.09h1.3v1.3h-1.3zM338.2 179.38h1.3v1.3h-1.3zM338.2 176.95h1.3v1.15h-1.3zM335.61 179.38h1.3v1.3h-1.3zM340.78 176.95h1.3v1.15h-1.3zM342.08 178.09h1.3v1.3h-1.3zM343.37 179.38h1.3v1.3h-1.3zM343.37 176.95h1.3v1.15h-1.3zM340.78 179.38h1.3v1.3h-1.3zM345.96 176.95h0.69v1.15h-0.69zM345.96 179.38h0.69v1.3h-0.69zM322.85 184.53h1.13v1.3h-1.13zM322.85 181.95h1.13v1.3h-1.13zM323.97 180.67h1.3v1.3h-1.3zM325.27 181.95h1.3v1.3h-1.3zM326.56 183.24h1.3v1.3h-1.3zM327.85 184.53h1.3v1.3h-1.3zM327.85 181.95h1.3v1.3h-1.3zM325.27 184.53h1.3v1.3h-1.3zM329.15 180.67h1.3v1.3h-1.3zM330.44 181.95h1.3v1.3h-1.3zM331.73 183.24h1.3v1.3h-1.3zM333.03 184.53h1.3v1.3h-1.3zM333.03 181.95h1.3v1.3h-1.3zM330.44 184.53h1.3v1.3h-1.3zM334.32 180.67h1.3v1.3h-1.3zM335.61 181.95h1.3v1.3h-1.3zM336.9 183.24h1.3v1.3h-1.3zM338.2 184.53h1.3v1.3h-1.3zM338.2 181.95h1.3v1.3h-1.3zM335.61 184.53h1.3v1.3h-1.3zM339.49 180.67h1.3v1.3h-1.3zM340.78 181.95h1.3v1.3h-1.3zM342.08 183.24h1.3v1.3h-1.3zM343.37 184.53h1.3v1.3h-1.3zM343.37 181.95h1.3v1.3h-1.3zM340.78 184.53h1.3v1.3h-1.3zM344.66 180.67h1.3v1.3h-1.3zM345.96 181.95h0.69v1.3h-0.69zM345.96 184.53h0.69v1.3h-0.69zM322.85 189.69h1.13v1.3h-1.13zM322.85 187.11h1.13v1.3h-1.13zM323.97 185.82h1.3v1.3h-1.3zM325.27 187.11h1.3v1.3h-1.3zM326.56 188.4h1.3v1.3h-1.3zM327.85 189.69h1.3v1.3h-1.3zM327.85 187.11h1.3v1.3h-1.3zM325.27 189.69h1.3v1.3h-1.3zM329.15 185.82h1.3v1.3h-1.3zM330.44 187.11h1.3v1.3h-1.3zM331.73 188.4h1.3v1.3h-1.3zM333.03 189.69h1.3v1.3h-1.3zM333.03 187.11h1.3v1.3h-1.3zM330.44 189.69h1.3v1.3h-1.3zM334.32 185.82h1.3v1.3h-1.3zM335.61 187.11h1.3v1.3h-1.3zM336.9 188.4h1.3v1.3h-1.3zM338.2 189.69h1.3v1.3h-1.3zM338.2 187.11h1.3v1.3h-1.3zM335.61 189.69h1.3v1.3h-1.3zM339.49 185.82h1.3v1.3h-1.3zM340.78 187.11h1.3v1.3h-1.3zM342.08 188.4h1.3v1.3h-1.3zM343.37 189.69h1.3v1.3h-1.3zM343.37 187.11h1.3v1.3h-1.3zM340.78 189.69h1.3v1.3h-1.3zM344.66 185.82h1.3v1.3h-1.3zM345.96 187.11h0.69v1.3h-0.69zM345.96 189.69h0.69v1.3h-0.69zM322.85 194.84h1.13v1.3h-1.13zM322.85 192.26h1.13v1.3h-1.13zM323.97 190.98h1.3v1.3h-1.3zM325.27 192.26h1.3v1.3h-1.3zM326.56 193.55h1.3v1.3h-1.3zM327.85 194.84h1.3v1.3h-1.3zM327.85 192.26h1.3v1.3h-1.3zM325.27 194.84h1.3v1.3h-1.3zM329.15 190.98h1.3v1.3h-1.3zM330.44 192.26h1.3v1.3h-1.3zM331.73 193.55h1.3v1.3h-1.3zM333.03 194.84h1.3v1.3h-1.3zM333.03 192.26h1.3v1.3h-1.3zM330.44 194.84h1.3v1.3h-1.3zM334.32 190.98h1.3v1.3h-1.3zM335.61 192.26h1.3v1.3h-1.3zM336.9 193.55h1.3v1.3h-1.3zM338.2 194.84h1.3v1.3h-1.3zM338.2 192.26h1.3v1.3h-1.3zM335.61 194.84h1.3v1.3h-1.3zM339.49 190.98h1.3v1.3h-1.3zM340.78 192.26h1.3v1.3h-1.3zM342.08 193.55h1.3v1.3h-1.3zM343.37 194.84h1.3v1.3h-1.3zM343.37 192.26h1.3v1.3h-1.3zM340.78 194.84h1.3v1.3h-1.3zM344.66 190.98h1.3v1.3h-1.3zM345.96 192.26h0.69v1.3h-0.69zM345.96 194.84h0.69v1.3h-0.69zM322.85 200h1.13v1.3h-1.13zM322.85 197.42h1.13v1.3h-1.13zM323.97 196.13h1.3v1.3h-1.3zM325.27 197.42h1.3v1.3h-1.3zM326.56 198.71h1.3v1.3h-1.3zM327.85 200h1.3v1.3h-1.3zM327.85 197.42h1.3v1.3h-1.3zM325.27 200h1.3v1.3h-1.3zM329.15 196.13h1.3v1.3h-1.3zM330.44 197.42h1.3v1.3h-1.3zM331.73 198.71h1.3v1.3h-1.3zM333.03 200h1.3v1.3h-1.3zM333.03 197.42h1.3v1.3h-1.3zM330.44 200h1.3v1.3h-1.3zM334.32 196.13h1.3v1.3h-1.3zM335.61 197.42h1.3v1.3h-1.3zM336.9 198.71h1.3v1.3h-1.3zM338.2 200h1.3v1.3h-1.3zM338.2 197.42h1.3v1.3h-1.3zM335.61 200h1.3v1.3h-1.3zM339.49 196.13h1.3v1.3h-1.3zM340.78 197.42h1.3v1.3h-1.3zM342.08 198.71h1.3v1.3h-1.3zM343.37 200h1.3v1.3h-1.3zM343.37 197.42h1.3v1.3h-1.3zM340.78 200h1.3v1.3h-1.3zM344.66 196.13h1.3v1.3h-1.3zM345.96 197.42h0.69v1.3h-0.69zM345.96 200h0.69v1.3h-0.69zM322.85 205.15h1.13v1.3h-1.13zM322.85 202.57h1.13v1.3h-1.13zM323.97 201.29h1.3v1.3h-1.3zM325.27 202.57h1.3v1.3h-1.3zM326.56 203.86h1.3v1.3h-1.3zM327.85 205.15h1.3v1.3h-1.3zM327.85 202.57h1.3v1.3h-1.3zM325.27 205.15h1.3v1.3h-1.3zM329.15 201.29h1.3v1.3h-1.3zM330.44 202.57h1.3v1.3h-1.3zM331.73 203.86h1.3v1.3h-1.3zM333.03 205.15h1.3v1.3h-1.3zM333.03 202.57h1.3v1.3h-1.3zM330.44 205.15h1.3v1.3h-1.3zM334.32 201.29h1.3v1.3h-1.3zM335.61 202.57h1.3v1.3h-1.3zM336.9 203.86h1.3v1.3h-1.3zM338.2 205.15h1.3v1.3h-1.3zM338.2 202.57h1.3v1.3h-1.3zM335.61 205.15h1.3v1.3h-1.3zM339.49 201.29h1.3v1.3h-1.3zM340.78 202.57h1.3v1.3h-1.3zM342.08 203.86h1.3v1.3h-1.3zM343.37 205.15h1.3v1.3h-1.3zM343.37 202.57h1.3v1.3h-1.3zM340.78 205.15h1.3v1.3h-1.3zM344.66 201.29h1.3v1.3h-1.3zM345.96 202.57h0.69v1.3h-0.69zM345.96 205.15h0.69v1.3h-0.69zM322.85 210.31h1.13v1.3h-1.13zM322.85 207.73h1.13v1.3h-1.13zM323.97 206.44h1.3v1.3h-1.3zM325.27 207.73h1.3v1.3h-1.3zM326.56 209.02h1.3v1.3h-1.3zM327.85 210.31h1.3v1.3h-1.3zM327.85 207.73h1.3v1.3h-1.3zM325.27 210.31h1.3v1.3h-1.3zM329.15 206.44h1.3v1.3h-1.3zM330.44 207.73h1.3v1.3h-1.3zM331.73 209.02h1.3v1.3h-1.3zM333.03 210.31h1.3v1.3h-1.3zM333.03 207.73h1.3v1.3h-1.3zM330.44 210.31h1.3v1.3h-1.3zM334.32 206.44h1.3v1.3h-1.3zM335.61 207.73h1.3v1.3h-1.3zM336.9 209.02h1.3v1.3h-1.3zM338.2 210.31h1.3v1.3h-1.3zM338.2 207.73h1.3v1.3h-1.3zM335.61 210.31h1.3v1.3h-1.3zM339.49 206.44h1.3v1.3h-1.3zM340.78 207.73h1.3v1.3h-1.3zM342.08 209.02h1.3v1.3h-1.3zM343.37 210.31h1.3v1.3h-1.3zM343.37 207.73h1.3v1.3h-1.3zM340.78 210.31h1.3v1.3h-1.3zM344.66 206.44h1.3v1.3h-1.3zM345.96 207.73h0.69v1.3h-0.69zM345.96 210.31h0.69v1.3h-0.69zM322.85 215.46h1.13v1.3h-1.13zM322.85 212.88h1.13v1.3h-1.13zM323.97 211.6h1.3v1.3h-1.3zM325.27 212.88h1.3v1.3h-1.3zM326.56 214.17h1.3v1.3h-1.3zM327.85 215.46h1.3v1.3h-1.3zM327.85 212.88h1.3v1.3h-1.3zM325.27 215.46h1.3v1.3h-1.3zM329.15 211.6h1.3v1.3h-1.3zM330.44 212.88h1.3v1.3h-1.3zM331.73 214.17h1.3v1.3h-1.3zM333.03 215.46h1.3v1.3h-1.3zM333.03 212.88h1.3v1.3h-1.3zM330.44 215.46h1.3v1.3h-1.3zM334.32 211.6h1.3v1.3h-1.3zM335.61 212.88h1.3v1.3h-1.3zM336.9 214.17h1.3v1.3h-1.3zM338.2 215.46h1.3v1.3h-1.3zM338.2 212.88h1.3v1.3h-1.3zM335.61 215.46h1.3v1.3h-1.3zM339.49 211.6h1.3v1.3h-1.3zM340.78 212.88h1.3v1.3h-1.3zM342.08 214.17h1.3v1.3h-1.3zM343.37 215.46h1.3v1.3h-1.3zM343.37 212.88h1.3v1.3h-1.3zM340.78 215.46h1.3v1.3h-1.3zM344.66 211.6h1.3v1.3h-1.3zM345.96 212.88h0.69v1.3h-0.69zM345.96 215.46h0.69v1.3h-0.69zM322.85 220.62h1.13v1.3h-1.13zM322.85 218.04h1.13v1.3h-1.13zM323.97 216.75h1.3v1.3h-1.3zM325.27 218.04h1.3v1.3h-1.3zM326.56 219.33h1.3v1.3h-1.3zM327.85 220.62h1.3v1.3h-1.3zM327.85 218.04h1.3v1.3h-1.3zM325.27 220.62h1.3v1.3h-1.3zM329.15 216.75h1.3v1.3h-1.3zM330.44 218.04h1.3v1.3h-1.3zM331.73 219.33h1.3v1.3h-1.3zM333.03 220.62h1.3v1.3h-1.3zM333.03 218.04h1.3v1.3h-1.3zM330.44 220.62h1.3v1.3h-1.3zM334.32 216.75h1.3v1.3h-1.3zM335.61 218.04h1.3v1.3h-1.3zM336.9 219.33h1.3v1.3h-1.3zM338.2 220.62h1.3v1.3h-1.3zM338.2 218.04h1.3v1.3h-1.3zM335.61 220.62h1.3v1.3h-1.3zM339.49 216.75h1.3v1.3h-1.3zM340.78 218.04h1.3v1.3h-1.3zM342.08 219.33h1.3v1.3h-1.3zM343.37 220.62h1.3v1.3h-1.3zM343.37 218.04h1.3v1.3h-1.3zM340.78 220.62h1.3v1.3h-1.3zM344.66 216.75h1.3v1.3h-1.3zM345.96 218.04h0.69v1.3h-0.69zM345.96 220.62h0.69v1.3h-0.69zM322.85 225.77h1.13v1.3h-1.13zM322.85 223.19h1.13v1.3h-1.13zM323.97 221.91h1.3v1.3h-1.3zM325.27 223.19h1.3v1.3h-1.3zM326.56 224.48h1.3v1.3h-1.3zM327.85 225.77h1.3v1.3h-1.3zM327.85 223.19h1.3v1.3h-1.3zM325.27 225.77h1.3v1.3h-1.3zM329.15 221.91h1.3v1.3h-1.3zM330.44 223.19h1.3v1.3h-1.3zM331.73 224.48h1.3v1.3h-1.3zM333.03 225.77h1.3v1.3h-1.3zM333.03 223.19h1.3v1.3h-1.3zM330.44 225.77h1.3v1.3h-1.3zM334.32 221.91h1.3v1.3h-1.3zM335.61 223.19h1.3v1.3h-1.3zM336.9 224.48h1.3v1.3h-1.3zM338.2 225.77h1.3v1.3h-1.3zM338.2 223.19h1.3v1.3h-1.3zM335.61 225.77h1.3v1.3h-1.3zM339.49 221.91h1.3v1.3h-1.3zM340.78 223.19h1.3v1.3h-1.3zM342.08 224.48h1.3v1.3h-1.3zM343.37 225.77h1.3v1.3h-1.3zM343.37 223.19h1.3v1.3h-1.3zM340.78 225.77h1.3v1.3h-1.3zM344.66 221.91h1.3v1.3h-1.3zM345.96 223.19h0.69v1.3h-0.69zM345.96 225.77h0.69v1.3h-0.69zM322.85 230.93h1.13v1.3h-1.13zM322.85 228.35h1.13v1.3h-1.13zM323.97 227.06h1.3v1.3h-1.3zM325.27 228.35h1.3v1.3h-1.3zM326.56 229.64h1.3v1.3h-1.3zM327.85 230.93h1.3v1.3h-1.3zM327.85 228.35h1.3v1.3h-1.3zM325.27 230.93h1.3v1.3h-1.3zM329.15 227.06h1.3v1.3h-1.3zM330.44 228.35h1.3v1.3h-1.3zM331.73 229.64h1.3v1.3h-1.3zM333.03 230.93h1.3v1.3h-1.3zM333.03 228.35h1.3v1.3h-1.3zM330.44 230.93h1.3v1.3h-1.3zM334.32 227.06h1.3v1.3h-1.3zM335.61 228.35h1.3v1.3h-1.3zM336.9 229.64h1.3v1.3h-1.3zM338.2 230.93h1.3v1.3h-1.3zM338.2 228.35h1.3v1.3h-1.3zM335.61 230.93h1.3v1.3h-1.3zM339.49 227.06h1.3v1.3h-1.3zM340.78 228.35h1.3v1.3h-1.3zM342.08 229.64h1.3v1.3h-1.3zM343.37 230.93h1.3v1.3h-1.3zM343.37 228.35h1.3v1.3h-1.3zM340.78 230.93h1.3v1.3h-1.3zM344.66 227.06h1.3v1.3h-1.3zM345.96 228.35h0.69v1.3h-0.69zM345.96 230.93h0.69v1.3h-0.69zM322.85 236.08h1.13v1.3h-1.13zM322.85 233.5h1.13v1.3h-1.13zM323.97 232.22h1.3v1.3h-1.3zM325.27 233.5h1.3v1.3h-1.3zM326.56 234.79h1.3v1.3h-1.3zM327.85 236.08h1.3v1.3h-1.3zM327.85 233.5h1.3v1.3h-1.3zM325.27 236.08h1.3v1.3h-1.3zM329.15 232.22h1.3v1.3h-1.3zM330.44 233.5h1.3v1.3h-1.3zM331.73 234.79h1.3v1.3h-1.3zM333.03 236.08h1.3v1.3h-1.3zM333.03 233.5h1.3v1.3h-1.3zM330.44 236.08h1.3v1.3h-1.3zM334.32 232.22h1.3v1.3h-1.3zM335.61 233.5h1.3v1.3h-1.3zM336.9 234.79h1.3v1.3h-1.3zM338.2 236.08h1.3v1.3h-1.3zM338.2 233.5h1.3v1.3h-1.3zM335.61 236.08h1.3v1.3h-1.3zM339.49 232.22h1.3v1.3h-1.3zM340.78 233.5h1.3v1.3h-1.3zM342.08 234.79h1.3v1.3h-1.3zM343.37 236.08h1.3v1.3h-1.3zM343.37 233.5h1.3v1.3h-1.3zM340.78 236.08h1.3v1.3h-1.3zM344.66 232.22h1.3v1.3h-1.3zM345.96 233.5h0.69v1.3h-0.69zM345.96 236.08h0.69v1.3h-0.69zM322.85 241.24h1.13v1.3h-1.13zM322.85 238.66h1.13v1.3h-1.13zM323.97 237.37h1.3v1.3h-1.3zM325.27 238.66h1.3v1.3h-1.3zM326.56 239.95h1.3v1.3h-1.3zM327.85 241.24h1.3v1.3h-1.3zM327.85 238.66h1.3v1.3h-1.3zM325.27 241.24h1.3v1.3h-1.3zM329.15 237.37h1.3v1.3h-1.3zM330.44 238.66h1.3v1.3h-1.3zM331.73 239.95h1.3v1.3h-1.3zM333.03 241.24h1.3v1.3h-1.3zM333.03 238.66h1.3v1.3h-1.3zM330.44 241.24h1.3v1.3h-1.3zM334.32 237.37h1.3v1.3h-1.3zM335.61 238.66h1.3v1.3h-1.3zM336.9 239.95h1.3v1.3h-1.3zM338.2 241.24h1.3v1.3h-1.3zM338.2 238.66h1.3v1.3h-1.3zM335.61 241.24h1.3v1.3h-1.3zM339.49 237.37h1.3v1.3h-1.3zM340.78 238.66h1.3v1.3h-1.3zM342.08 239.95h1.3v1.3h-1.3zM343.37 241.24h1.3v1.3h-1.3zM343.37 238.66h1.3v1.3h-1.3zM340.78 241.24h1.3v1.3h-1.3zM344.66 237.37h1.3v1.3h-1.3zM345.96 238.66h0.69v1.3h-0.69zM345.96 241.24h0.69v1.3h-0.69zM322.85 246.39h1.13v1.3h-1.13zM322.85 243.81h1.13v1.3h-1.13zM323.97 242.53h1.3v1.3h-1.3zM325.27 243.81h1.3v1.3h-1.3zM326.56 245.1h1.3v1.3h-1.3zM327.85 246.39h1.3v1.3h-1.3zM327.85 243.81h1.3v1.3h-1.3zM325.27 246.39h1.3v1.3h-1.3zM329.15 242.53h1.3v1.3h-1.3zM330.44 243.81h1.3v1.3h-1.3zM331.73 245.1h1.3v1.3h-1.3zM333.03 246.39h1.3v1.3h-1.3zM333.03 243.81h1.3v1.3h-1.3zM330.44 246.39h1.3v1.3h-1.3zM334.32 242.53h1.3v1.3h-1.3zM335.61 243.81h1.3v1.3h-1.3zM336.9 245.1h1.3v1.3h-1.3zM338.2 246.39h1.3v1.3h-1.3zM338.2 243.81h1.3v1.3h-1.3zM335.61 246.39h1.3v1.3h-1.3zM339.49 242.53h1.3v1.3h-1.3zM340.78 243.81h1.3v1.3h-1.3zM342.08 245.1h1.3v1.3h-1.3zM343.37 246.39h1.3v1.3h-1.3zM343.37 243.81h1.3v1.3h-1.3zM340.78 246.39h1.3v1.3h-1.3zM344.66 242.53h1.3v1.3h-1.3zM345.96 243.81h0.69v1.3h-0.69zM345.96 246.39h0.69v1.3h-0.69zM322.85 251.55h1.13v1.3h-1.13zM322.85 248.97h1.13v1.3h-1.13zM323.97 247.68h1.3v1.3h-1.3zM325.27 248.97h1.3v1.3h-1.3zM326.56 250.26h1.3v1.3h-1.3zM327.85 251.55h1.3v1.3h-1.3zM327.85 248.97h1.3v1.3h-1.3zM325.27 251.55h1.3v1.3h-1.3zM329.15 247.68h1.3v1.3h-1.3zM330.44 248.97h1.3v1.3h-1.3zM331.73 250.26h1.3v1.3h-1.3zM333.03 251.55h1.3v1.3h-1.3zM333.03 248.97h1.3v1.3h-1.3zM330.44 251.55h1.3v1.3h-1.3zM334.32 247.68h1.3v1.3h-1.3zM335.61 248.97h1.3v1.3h-1.3zM336.9 250.26h1.3v1.3h-1.3zM338.2 251.55h1.3v1.3h-1.3zM338.2 248.97h1.3v1.3h-1.3zM335.61 251.55h1.3v1.3h-1.3zM339.49 247.68h1.3v1.3h-1.3zM340.78 248.97h1.3v1.3h-1.3zM342.08 250.26h1.3v1.3h-1.3zM343.37 251.55h1.3v1.3h-1.3zM343.37 248.97h1.3v1.3h-1.3zM340.78 251.55h1.3v1.3h-1.3zM344.66 247.68h1.3v1.3h-1.3zM345.96 248.97h0.69v1.3h-0.69zM345.96 251.55h0.69v1.3h-0.69zM322.85 256.7h1.13v1.3h-1.13zM322.85 254.12h1.13v1.3h-1.13zM323.97 252.84h1.3v1.3h-1.3zM325.27 254.12h1.3v1.3h-1.3zM326.56 255.41h1.3v1.3h-1.3zM327.85 256.7h1.3v1.3h-1.3zM327.85 254.12h1.3v1.3h-1.3zM325.27 256.7h1.3v1.3h-1.3zM329.15 252.84h1.3v1.3h-1.3zM330.44 254.12h1.3v1.3h-1.3zM331.73 255.41h1.3v1.3h-1.3zM333.03 256.7h1.3v1.3h-1.3zM333.03 254.12h1.3v1.3h-1.3zM330.44 256.7h1.3v1.3h-1.3zM334.32 252.84h1.3v1.3h-1.3zM335.61 254.12h1.3v1.3h-1.3zM336.9 255.41h1.3v1.3h-1.3zM338.2 256.7h1.3v1.3h-1.3zM338.2 254.12h1.3v1.3h-1.3zM335.61 256.7h1.3v1.3h-1.3zM339.49 252.84h1.3v1.3h-1.3zM340.78 254.12h1.3v1.3h-1.3zM342.08 255.41h1.3v1.3h-1.3zM343.37 256.7h1.3v1.3h-1.3zM343.37 254.12h1.3v1.3h-1.3zM340.78 256.7h1.3v1.3h-1.3zM344.66 252.84h1.3v1.3h-1.3zM345.96 254.12h0.69v1.3h-0.69zM345.96 256.7h0.69v1.3h-0.69zM322.85 261.86h1.13v1.3h-1.13zM322.85 259.28h1.13v1.3h-1.13zM323.97 257.99h1.3v1.3h-1.3zM325.27 259.28h1.3v1.3h-1.3zM326.56 260.57h1.3v1.3h-1.3zM327.85 261.86h1.3v1.3h-1.3zM327.85 259.28h1.3v1.3h-1.3zM325.27 261.86h1.3v1.3h-1.3zM329.15 257.99h1.3v1.3h-1.3zM330.44 259.28h1.3v1.3h-1.3zM331.73 260.57h1.3v1.3h-1.3zM333.03 261.86h1.3v1.3h-1.3zM333.03 259.28h1.3v1.3h-1.3zM330.44 261.86h1.3v1.3h-1.3zM334.32 257.99h1.3v1.3h-1.3zM335.61 259.28h1.3v1.3h-1.3zM336.9 260.57h1.3v1.3h-1.3zM338.2 261.86h1.3v1.3h-1.3zM338.2 259.28h1.3v1.3h-1.3zM335.61 261.86h1.3v1.3h-1.3zM339.49 257.99h1.3v1.3h-1.3zM340.78 259.28h1.3v1.3h-1.3zM342.08 260.57h1.3v1.3h-1.3zM343.37 261.86h1.3v1.3h-1.3zM343.37 259.28h1.3v1.3h-1.3zM340.78 261.86h1.3v1.3h-1.3zM344.66 257.99h1.3v1.3h-1.3zM345.96 259.28h0.69v1.3h-0.69zM345.96 261.86h0.69v1.3h-0.69zM322.85 267.01h1.13v1.3h-1.13zM322.85 264.43h1.13v1.3h-1.13zM323.97 263.15h1.3v1.3h-1.3zM325.27 264.43h1.3v1.3h-1.3zM326.56 265.72h1.3v1.3h-1.3zM327.85 267.01h1.3v1.3h-1.3zM327.85 264.43h1.3v1.3h-1.3zM325.27 267.01h1.3v1.3h-1.3zM329.15 263.15h1.3v1.3h-1.3zM330.44 264.43h1.3v1.3h-1.3zM331.73 265.72h1.3v1.3h-1.3zM333.03 267.01h1.3v1.3h-1.3zM333.03 264.43h1.3v1.3h-1.3zM330.44 267.01h1.3v1.3h-1.3zM334.32 263.15h1.3v1.3h-1.3zM335.61 264.43h1.3v1.3h-1.3zM336.9 265.72h1.3v1.3h-1.3zM338.2 267.01h1.3v1.3h-1.3zM338.2 264.43h1.3v1.3h-1.3zM335.61 267.01h1.3v1.3h-1.3zM339.49 263.15h1.3v1.3h-1.3zM340.78 264.43h1.3v1.3h-1.3zM342.08 265.72h1.3v1.3h-1.3zM343.37 267.01h1.3v1.3h-1.3zM343.37 264.43h1.3v1.3h-1.3zM340.78 267.01h1.3v1.3h-1.3zM344.66 263.15h1.3v1.3h-1.3zM345.96 264.43h0.69v1.3h-0.69zM345.96 267.01h0.69v1.3h-0.69zM322.85 272.17h1.13v1.3h-1.13zM322.85 269.59h1.13v1.3h-1.13zM323.97 268.3h1.3v1.3h-1.3zM325.27 269.59h1.3v1.3h-1.3zM326.56 270.88h1.3v1.3h-1.3zM327.85 272.17h1.3v1.3h-1.3zM327.85 269.59h1.3v1.3h-1.3zM325.27 272.17h1.3v1.3h-1.3zM329.15 268.3h1.3v1.3h-1.3zM330.44 269.59h1.3v1.3h-1.3zM331.73 270.88h1.3v1.3h-1.3zM333.03 272.17h1.3v1.3h-1.3zM333.03 269.59h1.3v1.3h-1.3zM330.44 272.17h1.3v1.3h-1.3zM334.32 268.3h1.3v1.3h-1.3zM335.61 269.59h1.3v1.3h-1.3zM336.9 270.88h1.3v1.3h-1.3zM338.2 272.17h1.3v1.3h-1.3zM338.2 269.59h1.3v1.3h-1.3zM335.61 272.17h1.3v1.3h-1.3zM339.49 268.3h1.3v1.3h-1.3zM340.78 269.59h1.3v1.3h-1.3zM342.08 270.88h1.3v1.3h-1.3zM343.37 272.17h1.3v1.3h-1.3zM343.37 269.59h1.3v1.3h-1.3zM340.78 272.17h1.3v1.3h-1.3zM344.66 268.3h1.3v1.3h-1.3zM345.96 269.59h0.69v1.3h-0.69zM345.96 272.17h0.69v1.3h-0.69zM322.85 277.32h1.13v1.3h-1.13zM322.85 274.74h1.13v1.3h-1.13zM323.97 273.46h1.3v1.3h-1.3zM325.27 274.74h1.3v1.3h-1.3zM326.56 276.03h1.3v1.3h-1.3zM327.85 277.32h1.3v1.3h-1.3zM327.85 274.74h1.3v1.3h-1.3zM325.27 277.32h1.3v1.3h-1.3zM329.15 273.46h1.3v1.3h-1.3zM330.44 274.74h1.3v1.3h-1.3zM331.73 276.03h1.3v1.3h-1.3zM333.03 277.32h1.3v1.3h-1.3zM333.03 274.74h1.3v1.3h-1.3zM330.44 277.32h1.3v1.3h-1.3zM334.32 273.46h1.3v1.3h-1.3zM335.61 274.74h1.3v1.3h-1.3zM336.9 276.03h1.3v1.3h-1.3zM338.2 277.32h1.3v1.3h-1.3zM338.2 274.74h1.3v1.3h-1.3zM335.61 277.32h1.3v1.3h-1.3zM339.49 273.46h1.3v1.3h-1.3zM340.78 274.74h1.3v1.3h-1.3zM342.08 276.03h1.3v1.3h-1.3zM343.37 277.32h1.3v1.3h-1.3zM343.37 274.74h1.3v1.3h-1.3zM340.78 277.32h1.3v1.3h-1.3zM344.66 273.46h1.3v1.3h-1.3zM345.96 274.74h0.69v1.3h-0.69zM345.96 277.32h0.69v1.3h-0.69zM322.85 282.48h1.13v1.3h-1.13zM322.85 279.9h1.13v1.3h-1.13zM323.97 278.61h1.3v1.3h-1.3zM325.27 279.9h1.3v1.3h-1.3zM326.56 281.19h1.3v1.3h-1.3zM327.85 282.48h1.3v1.3h-1.3zM327.85 279.9h1.3v1.3h-1.3zM325.27 282.48h1.3v1.3h-1.3zM329.15 278.61h1.3v1.3h-1.3zM330.44 279.9h1.3v1.3h-1.3zM331.73 281.19h1.3v1.3h-1.3zM333.03 282.48h1.3v1.3h-1.3zM333.03 279.9h1.3v1.3h-1.3zM330.44 282.48h1.3v1.3h-1.3zM334.32 278.61h1.3v1.3h-1.3zM335.61 279.9h1.3v1.3h-1.3zM336.9 281.19h1.3v1.3h-1.3zM338.2 282.48h1.3v1.3h-1.3zM338.2 279.9h1.3v1.3h-1.3zM335.61 282.48h1.3v1.3h-1.3zM339.49 278.61h1.3v1.3h-1.3zM340.78 279.9h1.3v1.3h-1.3zM342.08 281.19h1.3v1.3h-1.3zM343.37 282.48h1.3v1.3h-1.3zM343.37 279.9h1.3v1.3h-1.3zM340.78 282.48h1.3v1.3h-1.3zM344.66 278.61h1.3v1.3h-1.3zM345.96 279.9h0.69v1.3h-0.69zM345.96 282.48h0.69v1.3h-0.69zM322.85 287.63h1.13v1.3h-1.13zM322.85 285.05h1.13v1.3h-1.13zM323.97 283.77h1.3v1.3h-1.3zM325.27 285.05h1.3v1.3h-1.3zM326.56 286.34h1.3v1.3h-1.3zM327.85 287.63h1.3v1.3h-1.3zM327.85 285.05h1.3v1.3h-1.3zM325.27 287.63h1.3v1.3h-1.3zM329.15 283.77h1.3v1.3h-1.3zM330.44 285.05h1.3v1.3h-1.3zM331.73 286.34h1.3v1.3h-1.3zM333.03 287.63h1.3v1.3h-1.3zM333.03 285.05h1.3v1.3h-1.3zM330.44 287.63h1.3v1.3h-1.3zM334.32 283.77h1.3v1.3h-1.3zM335.61 285.05h1.3v1.3h-1.3zM336.9 286.34h1.3v1.3h-1.3zM338.2 287.63h1.3v1.3h-1.3zM338.2 285.05h1.3v1.3h-1.3zM335.61 287.63h1.3v1.3h-1.3zM339.49 283.77h1.3v1.3h-1.3zM340.78 285.05h1.3v1.3h-1.3zM342.08 286.34h1.3v1.3h-1.3zM343.37 287.63h1.3v1.3h-1.3zM343.37 285.05h1.3v1.3h-1.3zM340.78 287.63h1.3v1.3h-1.3zM344.66 283.77h1.3v1.3h-1.3zM345.96 285.05h0.69v1.3h-0.69zM345.96 287.63h0.69v1.3h-0.69zM322.85 290.21h1.13v1.3h-1.13zM323.97 288.92h1.3v1.3h-1.3zM325.27 290.21h1.3v1.3h-1.3zM326.56 291.5h1.3v0.95h-1.3zM327.85 290.21h1.3v1.3h-1.3zM329.15 288.92h1.3v1.3h-1.3zM330.44 290.21h1.3v1.3h-1.3zM331.73 291.5h1.3v0.95h-1.3zM333.03 290.21h1.3v1.3h-1.3zM334.32 288.92h1.3v1.3h-1.3zM335.61 290.21h1.3v1.3h-1.3zM336.9 291.5h1.3v0.95h-1.3zM338.2 290.21h1.3v1.3h-1.3zM339.49 288.92h1.3v1.3h-1.3zM340.78 290.21h1.3v1.3h-1.3zM342.08 291.5h1.3v0.95h-1.3zM343.37 290.21h1.3v1.3h-1.3zM344.66 288.92h1.3v1.3h-1.3zM345.96 290.21h0.69v1.3h-0.69z" fill="#000"/>
<path d="M322.85 292.45V176.95H346.65V292.45" fill="none" stroke="#000" stroke-width="1.1" stroke-linejoin="round"/>
<rect x="450.65" y="259.65" width="23.8" height="32.8" fill="#fff"/>
<path d="M452.2 261.4h1.45v5.31h-1.45zM457.37 259.65h1.45v1.91h-1.45zM462.54 261.4h1.45v5.31h-1.45zM467.71 259.65h1.45v1.91h-1.45zM472.89 261.4h1.45v5.31h-1.45zM452.2 271.71h1.45v5.31h-1.45zM457.37 266.56h1.45v5.31h-1.45zM462.54 271.71h1.45v5.31h-1.45zM467.71 266.56h1.45v5.31h-1.45zM472.89 271.71h1.45v5.31h-1.45zM452.2 282.02h1.45v5.31h-1.45zM457.37 276.87h1.45v5.31h-1.45zM462.54 282.02h1.45v5.31h-1.45zM467.71 276.87h1.45v5.31h-1.45zM472.89 282.02h1.45v5.31h-1.45zM452.2 292.33h1.45v0.12h-1.45zM457.37 287.18h1.45v5.27h-1.45zM462.54 292.33h1.45v0.12h-1.45zM467.71 287.18h1.45v5.27h-1.45zM472.89 292.33h1.45v0.12h-1.45z" fill="#000"/>
<path d="M450.65 292.45V259.65H474.45V292.45" fill="none" stroke="#000" stroke-width="1.1" stroke-linejoin="round"/>
<rect x="480.4" y="239.55" width="23.8" height="52.9" fill="#fff"/>
<path d="M480.44 239.55h1.3v0.41h-1.3zM481.73 239.95h1.3v1.3h-1.3zM483.03 241.24h1.3v1.3h-1.3zM483.03 239.55h1.3v0.41h-1.3zM480.44 241.24h1.3v1.3h-1.3zM485.61 239.55h1.3v0.41h-1.3zM486.91 239.95h1.3v1.3h-1.3zM488.2 241.24h1.3v1.3h-1.3zM488.2 239.55h1.3v0.41h-1.3zM485.61 241.24h1.3v1.3h-1.3zM490.79 239.55h1.3v0.41h-1.3zM492.08 239.95h1.3v1.3h-1.3zM493.37 241.24h1.3v1.3h-1.3zM493.37 239.55h1.3v0.41h-1.3zM490.79 241.24h1.3v1.3h-1.3zM495.96 239.55h1.3v0.41h-1.3zM497.25 239.95h1.3v1.3h-1.3zM498.55 241.24h1.3v1.3h-1.3zM498.55 239.55h1.3v0.41h-1.3zM495.96 241.24h1.3v1.3h-1.3zM501.13 239.55h1.3v0.41h-1.3zM502.42 239.95h1.3v1.3h-1.3zM503.72 241.24h0.48v1.3h-0.48zM503.72 239.55h0.48v0.41h-0.48zM501.13 241.24h1.3v1.3h-1.3zM480.4 242.53h0.05v1.3h-0.05zM480.44 243.81h1.3v1.3h-1.3zM481.73 245.1h1.3v1.3h-1.3zM483.03 246.39h1.3v1.3h-1.3zM483.03 243.81h1.3v1.3h-1.3zM480.44 246.39h1.3v1.3h-1.3zM484.32 242.53h1.3v1.3h-1.3zM485.61 243.81h1.3v1.3h-1.3zM486.91 245.1h1.3v1.3h-1.3zM488.2 246.39h1.3v1.3h-1.3zM488.2 243.81h1.3v1.3h-1.3zM485.61 246.39h1.3v1.3h-1.3zM489.49 242.53h1.3v1.3h-1.3zM490.79 243.81h1.3v1.3h-1.3zM492.08 245.1h1.3v1.3h-1.3zM493.37 246.39h1.3v1.3h-1.3zM493.37 243.81h1.3v1.3h-1.3zM490.79 246.39h1.3v1.3h-1.3zM494.67 242.53h1.3v1.3h-1.3zM495.96 243.81h1.3v1.3h-1.3zM497.25 245.1h1.3v1.3h-1.3zM498.55 246.39h1.3v1.3h-1.3zM498.55 243.81h1.3v1.3h-1.3zM495.96 246.39h1.3v1.3h-1.3zM499.84 242.53h1.3v1.3h-1.3zM501.13 243.81h1.3v1.3h-1.3zM502.42 245.1h1.3v1.3h-1.3zM503.72 246.39h0.48v1.3h-0.48zM503.72 243.81h0.48v1.3h-0.48zM501.13 246.39h1.3v1.3h-1.3zM480.4 247.68h0.05v1.3h-0.05zM480.44 248.97h1.3v1.3h-1.3zM481.73 250.26h1.3v1.3h-1.3zM483.03 251.55h1.3v1.3h-1.3zM483.03 248.97h1.3v1.3h-1.3zM480.44 251.55h1.3v1.3h-1.3zM484.32 247.68h1.3v1.3h-1.3zM485.61 248.97h1.3v1.3h-1.3zM486.91 250.26h1.3v1.3h-1.3zM488.2 251.55h1.3v1.3h-1.3zM488.2 248.97h1.3v1.3h-1.3zM485.61 251.55h1.3v1.3h-1.3zM489.49 247.68h1.3v1.3h-1.3zM490.79 248.97h1.3v1.3h-1.3zM492.08 250.26h1.3v1.3h-1.3zM493.37 251.55h1.3v1.3h-1.3zM493.37 248.97h1.3v1.3h-1.3zM490.79 251.55h1.3v1.3h-1.3zM494.67 247.68h1.3v1.3h-1.3zM495.96 248.97h1.3v1.3h-1.3zM497.25 250.26h1.3v1.3h-1.3zM498.55 251.55h1.3v1.3h-1.3zM498.55 248.97h1.3v1.3h-1.3zM495.96 251.55h1.3v1.3h-1.3zM499.84 247.68h1.3v1.3h-1.3zM501.13 248.97h1.3v1.3h-1.3zM502.42 250.26h1.3v1.3h-1.3zM503.72 251.55h0.48v1.3h-0.48zM503.72 248.97h0.48v1.3h-0.48zM501.13 251.55h1.3v1.3h-1.3zM480.4 252.84h0.05v1.3h-0.05zM480.44 254.12h1.3v1.3h-1.3zM481.73 255.41h1.3v1.3h-1.3zM483.03 256.7h1.3v1.3h-1.3zM483.03 254.12h1.3v1.3h-1.3zM480.44 256.7h1.3v1.3h-1.3zM484.32 252.84h1.3v1.3h-1.3zM485.61 254.12h1.3v1.3h-1.3zM486.91 255.41h1.3v1.3h-1.3zM488.2 256.7h1.3v1.3h-1.3zM488.2 254.12h1.3v1.3h-1.3zM485.61 256.7h1.3v1.3h-1.3zM489.49 252.84h1.3v1.3h-1.3zM490.79 254.12h1.3v1.3h-1.3zM492.08 255.41h1.3v1.3h-1.3zM493.37 256.7h1.3v1.3h-1.3zM493.37 254.12h1.3v1.3h-1.3zM490.79 256.7h1.3v1.3h-1.3zM494.67 252.84h1.3v1.3h-1.3zM495.96 254.12h1.3v1.3h-1.3zM497.25 255.41h1.3v1.3h-1.3zM498.55 256.7h1.3v1.3h-1.3zM498.55 254.12h1.3v1.3h-1.3zM495.96 256.7h1.3v1.3h-1.3zM499.84 252.84h1.3v1.3h-1.3zM501.13 254.12h1.3v1.3h-1.3zM502.42 255.41h1.3v1.3h-1.3zM503.72 256.7h0.48v1.3h-0.48zM503.72 254.12h0.48v1.3h-0.48zM501.13 256.7h1.3v1.3h-1.3zM480.4 257.99h0.05v1.3h-0.05zM480.44 259.28h1.3v1.3h-1.3zM481.73 260.57h1.3v1.3h-1.3zM483.03 261.86h1.3v1.3h-1.3zM483.03 259.28h1.3v1.3h-1.3zM480.44 261.86h1.3v1.3h-1.3zM484.32 257.99h1.3v1.3h-1.3zM485.61 259.28h1.3v1.3h-1.3zM486.91 260.57h1.3v1.3h-1.3zM488.2 261.86h1.3v1.3h-1.3zM488.2 259.28h1.3v1.3h-1.3zM485.61 261.86h1.3v1.3h-1.3zM489.49 257.99h1.3v1.3h-1.3zM490.79 259.28h1.3v1.3h-1.3zM492.08 260.57h1.3v1.3h-1.3zM493.37 261.86h1.3v1.3h-1.3zM493.37 259.28h1.3v1.3h-1.3zM490.79 261.86h1.3v1.3h-1.3zM494.67 257.99h1.3v1.3h-1.3zM495.96 259.28h1.3v1.3h-1.3zM497.25 260.57h1.3v1.3h-1.3zM498.55 261.86h1.3v1.3h-1.3zM498.55 259.28h1.3v1.3h-1.3zM495.96 261.86h1.3v1.3h-1.3zM499.84 257.99h1.3v1.3h-1.3zM501.13 259.28h1.3v1.3h-1.3zM502.42 260.57h1.3v1.3h-1.3zM503.72 261.86h0.48v1.3h-0.48zM503.72 259.28h0.48v1.3h-0.48zM501.13 261.86h1.3v1.3h-1.3zM480.4 263.15h0.05v1.3h-0.05zM480.44 264.43h1.3v1.3h-1.3zM481.73 265.72h1.3v1.3h-1.3zM483.03 267.01h1.3v1.3h-1.3zM483.03 264.43h1.3v1.3h-1.3zM480.44 267.01h1.3v1.3h-1.3zM484.32 263.15h1.3v1.3h-1.3zM485.61 264.43h1.3v1.3h-1.3zM486.91 265.72h1.3v1.3h-1.3zM488.2 267.01h1.3v1.3h-1.3zM488.2 264.43h1.3v1.3h-1.3zM485.61 267.01h1.3v1.3h-1.3zM489.49 263.15h1.3v1.3h-1.3zM490.79 264.43h1.3v1.3h-1.3zM492.08 265.72h1.3v1.3h-1.3zM493.37 267.01h1.3v1.3h-1.3zM493.37 264.43h1.3v1.3h-1.3zM490.79 267.01h1.3v1.3h-1.3zM494.67 263.15h1.3v1.3h-1.3zM495.96 264.43h1.3v1.3h-1.3zM497.25 265.72h1.3v1.3h-1.3zM498.55 267.01h1.3v1.3h-1.3zM498.55 264.43h1.3v1.3h-1.3zM495.96 267.01h1.3v1.3h-1.3zM499.84 263.15h1.3v1.3h-1.3zM501.13 264.43h1.3v1.3h-1.3zM502.42 265.72h1.3v1.3h-1.3zM503.72 267.01h0.48v1.3h-0.48zM503.72 264.43h0.48v1.3h-0.48zM501.13 267.01h1.3v1.3h-1.3zM480.4 268.3h0.05v1.3h-0.05zM480.44 269.59h1.3v1.3h-1.3zM481.73 270.88h1.3v1.3h-1.3zM483.03 272.17h1.3v1.3h-1.3zM483.03 269.59h1.3v1.3h-1.3zM480.44 272.17h1.3v1.3h-1.3zM484.32 268.3h1.3v1.3h-1.3zM485.61 269.59h1.3v1.3h-1.3zM486.91 270.88h1.3v1.3h-1.3zM488.2 272.17h1.3v1.3h-1.3zM488.2 269.59h1.3v1.3h-1.3zM485.61 272.17h1.3v1.3h-1.3zM489.49 268.3h1.3v1.3h-1.3zM490.79 269.59h1.3v1.3h-1.3zM492.08 270.88h1.3v1.3h-1.3zM493.37 272.17h1.3v1.3h-1.3zM493.37 269.59h1.3v1.3h-1.3zM490.79 272.17h1.3v1.3h-1.3zM494.67 268.3h1.3v1.3h-1.3zM495.96 269.59h1.3v1.3h-1.3zM497.25 270.88h1.3v1.3h-1.3zM498.55 272.17h1.3v1.3h-1.3zM498.55 269.59h1.3v1.3h-1.3zM495.96 272.17h1.3v1.3h-1.3zM499.84 268.3h1.3v1.3h-1.3zM501.13 269.59h1.3v1.3h-1.3zM502.42 270.88h1.3v1.3h-1.3zM503.72 272.17h0.48v1.3h-0.48zM503.72 269.59h0.48v1.3h-0.48zM501.13 272.17h1.3v1.3h-1.3zM480.4 273.46h0.05v1.3h-0.05zM480.44 274.74h1.3v1.3h-1.3zM481.73 276.03h1.3v1.3h-1.3zM483.03 277.32h1.3v1.3h-1.3zM483.03 274.74h1.3v1.3h-1.3zM480.44 277.32h1.3v1.3h-1.3zM484.32 273.46h1.3v1.3h-1.3zM485.61 274.74h1.3v1.3h-1.3zM486.91 276.03h1.3v1.3h-1.3zM488.2 277.32h1.3v1.3h-1.3zM488.2 274.74h1.3v1.3h-1.3zM485.61 277.32h1.3v1.3h-1.3zM489.49 273.46h1.3v1.3h-1.3zM490.79 274.74h1.3v1.3h-1.3zM492.08 276.03h1.3v1.3h-1.3zM493.37 277.32h1.3v1.3h-1.3zM493.37 274.74h1.3v1.3h-1.3zM490.79 277.32h1.3v1.3h-1.3zM494.67 273.46h1.3v1.3h-1.3zM495.96 274.74h1.3v1.3h-1.3zM497.25 276.03h1.3v1.3h-1.3zM498.55 277.32h1.3v1.3h-1.3zM498.55 274.74h1.3v1.3h-1.3zM495.96 277.32h1.3v1.3h-1.3zM499.84 273.46h1.3v1.3h-1.3zM501.13 274.74h1.3v1.3h-1.3zM502.42 276.03h1.3v1.3h-1.3zM503.72 277.32h0.48v1.3h-0.48zM503.72 274.74h0.48v1.3h-0.48zM501.13 277.32h1.3v1.3h-1.3zM480.4 278.61h0.05v1.3h-0.05zM480.44 279.9h1.3v1.3h-1.3zM481.73 281.19h1.3v1.3h-1.3zM483.03 282.48h1.3v1.3h-1.3zM483.03 279.9h1.3v1.3h-1.3zM480.44 282.48h1.3v1.3h-1.3zM484.32 278.61h1.3v1.3h-1.3zM485.61 279.9h1.3v1.3h-1.3zM486.91 281.19h1.3v1.3h-1.3zM488.2 282.48h1.3v1.3h-1.3zM488.2 279.9h1.3v1.3h-1.3zM485.61 282.48h1.3v1.3h-1.3zM489.49 278.61h1.3v1.3h-1.3zM490.79 279.9h1.3v1.3h-1.3zM492.08 281.19h1.3v1.3h-1.3zM493.37 282.48h1.3v1.3h-1.3zM493.37 279.9h1.3v1.3h-1.3zM490.79 282.48h1.3v1.3h-1.3zM494.67 278.61h1.3v1.3h-1.3zM495.96 279.9h1.3v1.3h-1.3zM497.25 281.19h1.3v1.3h-1.3zM498.55 282.48h1.3v1.3h-1.3zM498.55 279.9h1.3v1.3h-1.3zM495.96 282.48h1.3v1.3h-1.3zM499.84 278.61h1.3v1.3h-1.3zM501.13 279.9h1.3v1.3h-1.3zM502.42 281.19h1.3v1.3h-1.3zM503.72 282.48h0.48v1.3h-0.48zM503.72 279.9h0.48v1.3h-0.48zM501.13 282.48h1.3v1.3h-1.3zM480.4 283.77h0.05v1.3h-0.05zM480.44 285.05h1.3v1.3h-1.3zM481.73 286.34h1.3v1.3h-1.3zM483.03 287.63h1.3v1.3h-1.3zM483.03 285.05h1.3v1.3h-1.3zM480.44 287.63h1.3v1.3h-1.3zM484.32 283.77h1.3v1.3h-1.3zM485.61 285.05h1.3v1.3h-1.3zM486.91 286.34h1.3v1.3h-1.3zM488.2 287.63h1.3v1.3h-1.3zM488.2 285.05h1.3v1.3h-1.3zM485.61 287.63h1.3v1.3h-1.3zM489.49 283.77h1.3v1.3h-1.3zM490.79 285.05h1.3v1.3h-1.3zM492.08 286.34h1.3v1.3h-1.3zM493.37 287.63h1.3v1.3h-1.3zM493.37 285.05h1.3v1.3h-1.3zM490.79 287.63h1.3v1.3h-1.3zM494.67 283.77h1.3v1.3h-1.3zM495.96 285.05h1.3v1.3h-1.3zM497.25 286.34h1.3v1.3h-1.3zM498.55 287.63h1.3v1.3h-1.3zM498.55 285.05h1.3v1.3h-1.3zM495.96 287.63h1.3v1.3h-1.3zM499.84 283.77h1.3v1.3h-1.3zM501.13 285.05h1.3v1.3h-1.3zM502.42 286.34h1.3v1.3h-1.3zM503.72 287.63h0.48v1.3h-0.48zM503.72 285.05h0.48v1.3h-0.48zM501.13 287.63h1.3v1.3h-1.3zM480.4 288.92h0.05v1.3h-0.05zM480.44 290.21h1.3v1.3h-1.3zM481.73 291.5h1.3v0.95h-1.3zM483.03 290.21h1.3v1.3h-1.3zM484.32 288.92h1.3v1.3h-1.3zM485.61 290.21h1.3v1.3h-1.3zM486.91 291.5h1.3v0.95h-1.3zM488.2 290.21h1.3v1.3h-1.3zM489.49 288.92h1.3v1.3h-1.3zM490.79 290.21h1.3v1.3h-1.3zM492.08 291.5h1.3v0.95h-1.3zM493.37 290.21h1.3v1.3h-1.3zM494.67 288.92h1.3v1.3h-1.3zM495.96 290.21h1.3v1.3h-1.3zM497.25 291.5h1.3v0.95h-1.3zM498.55 290.21h1.3v1.3h-1.3zM499.84 288.92h1.3v1.3h-1.3zM501.13 290.21h1.3v1.3h-1.3zM502.42 291.5h1.3v0.95h-1.3zM503.72 290.21h0.48v1.3h-0.48z" fill="#000"/>
<path d="M480.4 292.45V239.55H504.2V292.45" fill="none" stroke="#000" stroke-width="1.1" stroke-linejoin="round"/>
<rect x="548.7" y="171.65" width="23.8" height="120.8" fill="#fff"/>
<path d="M550.5 173.96h1.39v1.39h-1.39zM560.85 173.96h1.39v1.39h-1.39zM571.19 173.96h1.31v1.39h-1.31zM550.5 184.27h1.39v1.39h-1.39zM555.67 179.12h1.39v1.39h-1.39zM560.85 184.27h1.39v1.39h-1.39zM566.02 179.12h1.39v1.39h-1.39zM571.19 184.27h1.31v1.39h-1.31zM550.5 194.58h1.39v1.39h-1.39zM555.67 189.43h1.39v1.39h-1.39zM560.85 194.58h1.39v1.39h-1.39zM566.02 189.43h1.39v1.39h-1.39zM571.19 194.58h1.31v1.39h-1.31zM550.5 204.89h1.39v1.39h-1.39zM555.67 199.74h1.39v1.39h-1.39zM560.85 204.89h1.39v1.39h-1.39zM566.02 199.74h1.39v1.39h-1.39zM571.19 204.89h1.31v1.39h-1.31zM550.5 215.2h1.39v1.39h-1.39zM555.67 210.05h1.39v1.39h-1.39zM560.85 215.2h1.39v1.39h-1.39zM566.02 210.05h1.39v1.39h-1.39zM571.19 215.2h1.31v1.39h-1.31zM550.5 225.51h1.39v1.39h-1.39zM555.67 220.36h1.39v1.39h-1.39zM560.85 225.51h1.39v1.39h-1.39zM566.02 220.36h1.39v1.39h-1.39zM571.19 225.51h1.31v1.39h-1.31zM550.5 235.82h1.39v1.39h-1.39zM555.67 230.67h1.39v1.39h-1.39zM560.85 235.82h1.39v1.39h-1.39zM566.02 230.67h1.39v1.39h-1.39zM571.19 235.82h1.31v1.39h-1.31zM550.5 246.13h1.39v1.39h-1.39zM555.67 240.98h1.39v1.39h-1.39zM560.85 246.13h1.39v1.39h-1.39zM566.02 240.98h1.39v1.39h-1.39zM571.19 246.13h1.31v1.39h-1.31zM550.5 256.44h1.39v1.39h-1.39zM555.67 251.29h1.39v1.39h-1.39zM560.85 256.44h1.39v1.39h-1.39zM566.02 251.29h1.39v1.39h-1.39zM571.19 256.44h1.31v1.39h-1.31zM550.5 266.75h1.39v1.39h-1.39zM555.67 261.6h1.39v1.39h-1.39zM560.85 266.75h1.39v1.39h-1.39zM566.02 261.6h1.39v1.39h-1.39zM571.19 266.75h1.31v1.39h-1.31zM550.5 277.06h1.39v1.39h-1.39zM555.67 271.91h1.39v1.39h-1.39zM560.85 277.06h1.39v1.39h-1.39zM566.02 271.91h1.39v1.39h-1.39zM571.19 277.06h1.31v1.39h-1.31zM550.5 287.37h1.39v1.39h-1.39zM555.67 282.22h1.39v1.39h-1.39zM560.85 287.37h1.39v1.39h-1.39zM566.02 282.22h1.39v1.39h-1.39zM571.19 287.37h1.31v1.39h-1.31z" fill="#000"/>
<path d="M548.7 292.45V171.65H572.5V292.45" fill="none" stroke="#000" stroke-width="1.1" stroke-linejoin="round"/>
<rect x="578.45" y="105.55" width="23.8" height="186.9" fill="#fff"/>
<clipPath id="c2"><rect x="578.45" y="105.55" width="23.8" height="186.9"/></clipPath>
<path clip-path="url(#c2)" d="M381.27 103.55L382.61 103.55L573.51 294.45L572.17 294.45zM386.44 103.55L387.79 103.55L578.69 294.45L577.34 294.45zM391.62 103.55L392.96 103.55L583.86 294.45L582.52 294.45zM396.79 103.55L398.13 103.55L589.03 294.45L587.69 294.45zM401.96 103.55L403.3 103.55L594.2 294.45L592.86 294.45zM407.13 103.55L408.48 103.55L599.38 294.45L598.03 294.45zM412.31 103.55L413.65 103.55L604.55 294.45L603.21 294.45zM417.48 103.55L418.82 103.55L609.72 294.45L608.38 294.45zM422.65 103.55L423.99 103.55L614.89 294.45L613.55 294.45zM427.82 103.55L429.17 103.55L620.07 294.45L618.72 294.45zM433 103.55L434.34 103.55L625.24 294.45L623.9 294.45zM438.17 103.55L439.51 103.55L630.41 294.45L629.07 294.45zM443.34 103.55L444.68 103.55L635.58 294.45L634.24 294.45zM448.51 103.55L449.86 103.55L640.76 294.45L639.41 294.45zM453.69 103.55L455.03 103.55L645.93 294.45L644.59 294.45zM458.86 103.55L460.2 103.55L651.1 294.45L649.76 294.45zM464.03 103.55L465.37 103.55L656.27 294.45L654.93 294.45zM469.2 103.55L470.55 103.55L661.45 294.45L660.1 294.45zM474.38 103.55L475.72 103.55L666.62 294.45L665.28 294.45zM479.55 103.55L480.89 103.55L671.79 294.45L670.45 294.45zM484.72 103.55L486.06 103.55L676.96 294.45L675.62 294.45zM489.89 103.55L491.24 103.55L682.14 294.45L680.79 294.45zM495.07 103.55L496.41 103.55L687.31 294.45L685.97 294.45zM500.24 103.55L501.58 103.55L692.48 294.45L691.14 294.45zM505.41 103.55L506.75 103.55L697.65 294.45L696.31 294.45zM510.58 103.55L511.93 103.55L702.83 294.45L701.48 294.45zM515.76 103.55L517.1 103.55L708 294.45L706.66 294.45zM520.93 103.55L522.27 103.55L713.17 294.45L711.83 294.45zM526.1 103.55L527.44 103.55L718.34 294.45L717 294.45zM531.27 103.55L532.62 103.55L723.52 294.45L722.17 294.45zM536.45 103.55L537.79 103.55L728.69 294.45L727.35 294.45zM541.62 103.55L542.96 103.55L733.86 294.45L732.52 294.45zM546.79 103.55L548.13 103.55L739.03 294.45L737.69 294.45zM551.96 103.55L553.31 103.55L744.21 294.45L742.86 294.45zM557.14 103.55L558.48 103.55L749.38 294.45L748.04 294.45zM562.31 103.55L563.65 103.55L754.55 294.45L753.21 294.45zM567.48 103.55L568.82 103.55L759.72 294.45L758.38 294.45zM572.65 103.55L574 103.55L764.9 294.45L763.55 294.45zM577.83 103.55L579.17 103.55L770.07 294.45L768.73 294.45zM583 103.55L584.34 103.55L775.24 294.45L773.9 294.45zM588.17 103.55L589.51 103.55L780.41 294.45L779.07 294.45zM593.34 103.55L594.69 103.55L785.59 294.45L784.24 294.45zM598.52 103.55L599.86 103.55L790.76 294.45L789.42 294.45zM603.69 103.55L605.03 103.55L795.93 294.45L794.59 294.45zM608.86 103.55L610.2 103.55L801.1 294.45L799.76 294.45z" fill="#000"/>
<path d="M578.45 292.45V105.55H602.25V292.45" fill="none" stroke="#000" stroke-width="1.1" stroke-linejoin="round"/>
<rect x="608.2" y="290.35" width="23.8" height="2.1" fill="#fff"/>
<path d="M608.2 292.33h0.62v0.12h-0.62zM612.54 290.35h1.45v2.1h-1.45zM617.72 292.33h1.45v0.12h-1.45zM622.89 290.35h1.45v2.1h-1.45zM628.06 292.33h1.45v0.12h-1.45z" fill="#000"/>
<path d="M608.2 292.45V290.35H632V292.45" fill="none" stroke="#000" stroke-width="1.1" stroke-linejoin="round"/>
<rect x="637.95" y="239.55" width="23.8" height="52.9" fill="#fff"/>
<path d="M637.95 239.95h0.26v1.3h-0.26zM638.2 241.24h1.3v1.3h-1.3zM638.2 239.55h1.3v0.41h-1.3zM640.79 239.55h1.3v0.41h-1.3zM642.08 239.95h1.3v1.3h-1.3zM643.38 241.24h1.3v1.3h-1.3zM643.38 239.55h1.3v0.41h-1.3zM640.79 241.24h1.3v1.3h-1.3zM645.96 239.55h1.3v0.41h-1.3zM647.25 239.95h1.3v1.3h-1.3zM648.55 241.24h1.3v1.3h-1.3zM648.55 239.55h1.3v0.41h-1.3zM645.96 241.24h1.3v1.3h-1.3zM651.13 239.55h1.3v0.41h-1.3zM652.43 239.95h1.3v1.3h-1.3zM653.72 241.24h1.3v1.3h-1.3zM653.72 239.55h1.3v0.41h-1.3zM651.13 241.24h1.3v1.3h-1.3zM656.31 239.55h1.3v0.41h-1.3zM657.6 239.95h1.3v1.3h-1.3zM658.89 241.24h1.3v1.3h-1.3zM658.89 239.55h1.3v0.41h-1.3zM656.31 241.24h1.3v1.3h-1.3zM661.48 239.55h0.27v0.41h-0.27zM661.48 241.24h0.27v1.3h-0.27zM637.95 245.1h0.26v1.3h-0.26zM638.2 246.39h1.3v1.3h-1.3zM638.2 243.81h1.3v1.3h-1.3zM639.5 242.53h1.3v1.3h-1.3zM640.79 243.81h1.3v1.3h-1.3zM642.08 245.1h1.3v1.3h-1.3zM643.38 246.39h1.3v1.3h-1.3zM643.38 243.81h1.3v1.3h-1.3zM640.79 246.39h1.3v1.3h-1.3zM644.67 242.53h1.3v1.3h-1.3zM645.96 243.81h1.3v1.3h-1.3zM647.25 245.1h1.3v1.3h-1.3zM648.55 246.39h1.3v1.3h-1.3zM648.55 243.81h1.3v1.3h-1.3zM645.96 246.39h1.3v1.3h-1.3zM649.84 242.53h1.3v1.3h-1.3zM651.13 243.81h1.3v1.3h-1.3zM652.43 245.1h1.3v1.3h-1.3zM653.72 246.39h1.3v1.3h-1.3zM653.72 243.81h1.3v1.3h-1.3zM651.13 246.39h1.3v1.3h-1.3zM655.01 242.53h1.3v1.3h-1.3zM656.31 243.81h1.3v1.3h-1.3zM657.6 245.1h1.3v1.3h-1.3zM658.89 246.39h1.3v1.3h-1.3zM658.89 243.81h1.3v1.3h-1.3zM656.31 246.39h1.3v1.3h-1.3zM660.19 242.53h1.3v1.3h-1.3zM661.48 243.81h0.27v1.3h-0.27zM661.48 246.39h0.27v1.3h-0.27zM637.95 250.26h0.26v1.3h-0.26zM638.2 251.55h1.3v1.3h-1.3zM638.2 248.97h1.3v1.3h-1.3zM639.5 247.68h1.3v1.3h-1.3zM640.79 248.97h1.3v1.3h-1.3zM642.08 250.26h1.3v1.3h-1.3zM643.38 251.55h1.3v1.3h-1.3zM643.38 248.97h1.3v1.3h-1.3zM640.79 251.55h1.3v1.3h-1.3zM644.67 247.68h1.3v1.3h-1.3zM645.96 248.97h1.3v1.3h-1.3zM647.25 250.26h1.3v1.3h-1.3zM648.55 251.55h1.3v1.3h-1.3zM648.55 248.97h1.3v1.3h-1.3zM645.96 251.55h1.3v1.3h-1.3zM649.84 247.68h1.3v1.3h-1.3zM651.13 248.97h1.3v1.3h-1.3zM652.43 250.26h1.3v1.3h-1.3zM653.72 251.55h1.3v1.3h-1.3zM653.72 248.97h1.3v1.3h-1.3zM651.13 251.55h1.3v1.3h-1.3zM655.01 247.68h1.3v1.3h-1.3zM656.31 248.97h1.3v1.3h-1.3zM657.6 250.26h1.3v1.3h-1.3zM658.89 251.55h1.3v1.3h-1.3zM658.89 248.97h1.3v1.3h-1.3zM656.31 251.55h1.3v1.3h-1.3zM660.19 247.68h1.3v1.3h-1.3zM661.48 248.97h0.27v1.3h-0.27zM661.48 251.55h0.27v1.3h-0.27zM637.95 255.41h0.26v1.3h-0.26zM638.2 256.7h1.3v1.3h-1.3zM638.2 254.12h1.3v1.3h-1.3zM639.5 252.84h1.3v1.3h-1.3zM640.79 254.12h1.3v1.3h-1.3zM642.08 255.41h1.3v1.3h-1.3zM643.38 256.7h1.3v1.3h-1.3zM643.38 254.12h1.3v1.3h-1.3zM640.79 256.7h1.3v1.3h-1.3zM644.67 252.84h1.3v1.3h-1.3zM645.96 254.12h1.3v1.3h-1.3zM647.25 255.41h1.3v1.3h-1.3zM648.55 256.7h1.3v1.3h-1.3zM648.55 254.12h1.3v1.3h-1.3zM645.96 256.7h1.3v1.3h-1.3zM649.84 252.84h1.3v1.3h-1.3zM651.13 254.12h1.3v1.3h-1.3zM652.43 255.41h1.3v1.3h-1.3zM653.72 256.7h1.3v1.3h-1.3zM653.72 254.12h1.3v1.3h-1.3zM651.13 256.7h1.3v1.3h-1.3zM655.01 252.84h1.3v1.3h-1.3zM656.31 254.12h1.3v1.3h-1.3zM657.6 255.41h1.3v1.3h-1.3zM658.89 256.7h1.3v1.3h-1.3zM658.89 254.12h1.3v1.3h-1.3zM656.31 256.7h1.3v1.3h-1.3zM660.19 252.84h1.3v1.3h-1.3zM661.48 254.12h0.27v1.3h-0.27zM661.48 256.7h0.27v1.3h-0.27zM637.95 260.57h0.26v1.3h-0.26zM638.2 261.86h1.3v1.3h-1.3zM638.2 259.28h1.3v1.3h-1.3zM639.5 257.99h1.3v1.3h-1.3zM640.79 259.28h1.3v1.3h-1.3zM642.08 260.57h1.3v1.3h-1.3zM643.38 261.86h1.3v1.3h-1.3zM643.38 259.28h1.3v1.3h-1.3zM640.79 261.86h1.3v1.3h-1.3zM644.67 257.99h1.3v1.3h-1.3zM645.96 259.28h1.3v1.3h-1.3zM647.25 260.57h1.3v1.3h-1.3zM648.55 261.86h1.3v1.3h-1.3zM648.55 259.28h1.3v1.3h-1.3zM645.96 261.86h1.3v1.3h-1.3zM649.84 257.99h1.3v1.3h-1.3zM651.13 259.28h1.3v1.3h-1.3zM652.43 260.57h1.3v1.3h-1.3zM653.72 261.86h1.3v1.3h-1.3zM653.72 259.28h1.3v1.3h-1.3zM651.13 261.86h1.3v1.3h-1.3zM655.01 257.99h1.3v1.3h-1.3zM656.31 259.28h1.3v1.3h-1.3zM657.6 260.57h1.3v1.3h-1.3zM658.89 261.86h1.3v1.3h-1.3zM658.89 259.28h1.3v1.3h-1.3zM656.31 261.86h1.3v1.3h-1.3zM660.19 257.99h1.3v1.3h-1.3zM661.48 259.28h0.27v1.3h-0.27zM661.48 261.86h0.27v1.3h-0.27zM637.95 265.72h0.26v1.3h-0.26zM638.2 267.01h1.3v1.3h-1.3zM638.2 264.43h1.3v1.3h-1.3zM639.5 263.15h1.3v1.3h-1.3zM640.79 264.43h1.3v1.3h-1.3zM642.08 265.72h1.3v1.3h-1.3zM643.38 267.01h1.3v1.3h-1.3zM643.38 264.43h1.3v1.3h-1.3zM640.79 267.01h1.3v1.3h-1.3zM644.67 263.15h1.3v1.3h-1.3zM645.96 264.43h1.3v1.3h-1.3zM647.25 265.72h1.3v1.3h-1.3zM648.55 267.01h1.3v1.3h-1.3zM648.55 264.43h1.3v1.3h-1.3zM645.96 267.01h1.3v1.3h-1.3zM649.84 263.15h1.3v1.3h-1.3zM651.13 264.43h1.3v1.3h-1.3zM652.43 265.72h1.3v1.3h-1.3zM653.72 267.01h1.3v1.3h-1.3zM653.72 264.43h1.3v1.3h-1.3zM651.13 267.01h1.3v1.3h-1.3zM655.01 263.15h1.3v1.3h-1.3zM656.31 264.43h1.3v1.3h-1.3zM657.6 265.72h1.3v1.3h-1.3zM658.89 267.01h1.3v1.3h-1.3zM658.89 264.43h1.3v1.3h-1.3zM656.31 267.01h1.3v1.3h-1.3zM660.19 263.15h1.3v1.3h-1.3zM661.48 264.43h0.27v1.3h-0.27zM661.48 267.01h0.27v1.3h-0.27zM637.95 270.88h0.26v1.3h-0.26zM638.2 272.17h1.3v1.3h-1.3zM638.2 269.59h1.3v1.3h-1.3zM639.5 268.3h1.3v1.3h-1.3zM640.79 269.59h1.3v1.3h-1.3zM642.08 270.88h1.3v1.3h-1.3zM643.38 272.17h1.3v1.3h-1.3zM643.38 269.59h1.3v1.3h-1.3zM640.79 272.17h1.3v1.3h-1.3zM644.67 268.3h1.3v1.3h-1.3zM645.96 269.59h1.3v1.3h-1.3zM647.25 270.88h1.3v1.3h-1.3zM648.55 272.17h1.3v1.3h-1.3zM648.55 269.59h1.3v1.3h-1.3zM645.96 272.17h1.3v1.3h-1.3zM649.84 268.3h1.3v1.3h-1.3zM651.13 269.59h1.3v1.3h-1.3zM652.43 270.88h1.3v1.3h-1.3zM653.72 272.17h1.3v1.3h-1.3zM653.72 269.59h1.3v1.3h-1.3zM651.13 272.17h1.3v1.3h-1.3zM655.01 268.3h1.3v1.3h-1.3zM656.31 269.59h1.3v1.3h-1.3zM657.6 270.88h1.3v1.3h-1.3zM658.89 272.17h1.3v1.3h-1.3zM658.89 269.59h1.3v1.3h-1.3zM656.31 272.17h1.3v1.3h-1.3zM660.19 268.3h1.3v1.3h-1.3zM661.48 269.59h0.27v1.3h-0.27zM661.48 272.17h0.27v1.3h-0.27zM637.95 276.03h0.26v1.3h-0.26zM638.2 277.32h1.3v1.3h-1.3zM638.2 274.74h1.3v1.3h-1.3zM639.5 273.46h1.3v1.3h-1.3zM640.79 274.74h1.3v1.3h-1.3zM642.08 276.03h1.3v1.3h-1.3zM643.38 277.32h1.3v1.3h-1.3zM643.38 274.74h1.3v1.3h-1.3zM640.79 277.32h1.3v1.3h-1.3zM644.67 273.46h1.3v1.3h-1.3zM645.96 274.74h1.3v1.3h-1.3zM647.25 276.03h1.3v1.3h-1.3zM648.55 277.32h1.3v1.3h-1.3zM648.55 274.74h1.3v1.3h-1.3zM645.96 277.32h1.3v1.3h-1.3zM649.84 273.46h1.3v1.3h-1.3zM651.13 274.74h1.3v1.3h-1.3zM652.43 276.03h1.3v1.3h-1.3zM653.72 277.32h1.3v1.3h-1.3zM653.72 274.74h1.3v1.3h-1.3zM651.13 277.32h1.3v1.3h-1.3zM655.01 273.46h1.3v1.3h-1.3zM656.31 274.74h1.3v1.3h-1.3zM657.6 276.03h1.3v1.3h-1.3zM658.89 277.32h1.3v1.3h-1.3zM658.89 274.74h1.3v1.3h-1.3zM656.31 277.32h1.3v1.3h-1.3zM660.19 273.46h1.3v1.3h-1.3zM661.48 274.74h0.27v1.3h-0.27zM661.48 277.32h0.27v1.3h-0.27zM637.95 281.19h0.26v1.3h-0.26zM638.2 282.48h1.3v1.3h-1.3zM638.2 279.9h1.3v1.3h-1.3zM639.5 278.61h1.3v1.3h-1.3zM640.79 279.9h1.3v1.3h-1.3zM642.08 281.19h1.3v1.3h-1.3zM643.38 282.48h1.3v1.3h-1.3zM643.38 279.9h1.3v1.3h-1.3zM640.79 282.48h1.3v1.3h-1.3zM644.67 278.61h1.3v1.3h-1.3zM645.96 279.9h1.3v1.3h-1.3zM647.25 281.19h1.3v1.3h-1.3zM648.55 282.48h1.3v1.3h-1.3zM648.55 279.9h1.3v1.3h-1.3zM645.96 282.48h1.3v1.3h-1.3zM649.84 278.61h1.3v1.3h-1.3zM651.13 279.9h1.3v1.3h-1.3zM652.43 281.19h1.3v1.3h-1.3zM653.72 282.48h1.3v1.3h-1.3zM653.72 279.9h1.3v1.3h-1.3zM651.13 282.48h1.3v1.3h-1.3zM655.01 278.61h1.3v1.3h-1.3zM656.31 279.9h1.3v1.3h-1.3zM657.6 281.19h1.3v1.3h-1.3zM658.89 282.48h1.3v1.3h-1.3zM658.89 279.9h1.3v1.3h-1.3zM656.31 282.48h1.3v1.3h-1.3zM660.19 278.61h1.3v1.3h-1.3zM661.48 279.9h0.27v1.3h-0.27zM661.48 282.48h0.27v1.3h-0.27zM637.95 286.34h0.26v1.3h-0.26zM638.2 287.63h1.3v1.3h-1.3zM638.2 285.05h1.3v1.3h-1.3zM639.5 283.77h1.3v1.3h-1.3zM640.79 285.05h1.3v1.3h-1.3zM642.08 286.34h1.3v1.3h-1.3zM643.38 287.63h1.3v1.3h-1.3zM643.38 285.05h1.3v1.3h-1.3zM640.79 287.63h1.3v1.3h-1.3zM644.67 283.77h1.3v1.3h-1.3zM645.96 285.05h1.3v1.3h-1.3zM647.25 286.34h1.3v1.3h-1.3zM648.55 287.63h1.3v1.3h-1.3zM648.55 285.05h1.3v1.3h-1.3zM645.96 287.63h1.3v1.3h-1.3zM649.84 283.77h1.3v1.3h-1.3zM651.13 285.05h1.3v1.3h-1.3zM652.43 286.34h1.3v1.3h-1.3zM653.72 287.63h1.3v1.3h-1.3zM653.72 285.05h1.3v1.3h-1.3zM651.13 287.63h1.3v1.3h-1.3zM655.01 283.77h1.3v1.3h-1.3zM656.31 285.05h1.3v1.3h-1.3zM657.6 286.34h1.3v1.3h-1.3zM658.89 287.63h1.3v1.3h-1.3zM658.89 285.05h1.3v1.3h-1.3zM656.31 287.63h1.3v1.3h-1.3zM660.19 283.77h1.3v1.3h-1.3zM661.48 285.05h0.27v1.3h-0.27zM661.48 287.63h0.27v1.3h-0.27zM637.95 291.5h0.26v0.95h-0.26zM638.2 290.21h1.3v1.3h-1.3zM639.5 288.92h1.3v1.3h-1.3zM640.79 290.21h1.3v1.3h-1.3zM642.08 291.5h1.3v0.95h-1.3zM643.38 290.21h1.3v1.3h-1.3zM644.67 288.92h1.3v1.3h-1.3zM645.96 290.21h1.3v1.3h-1.3zM647.25 291.5h1.3v0.95h-1.3zM648.55 290.21h1.3v1.3h-1.3zM649.84 288.92h1.3v1.3h-1.3zM651.13 290.21h1.3v1.3h-1.3zM652.43 291.5h1.3v0.95h-1.3zM653.72 290.21h1.3v1.3h-1.3zM655.01 288.92h1.3v1.3h-1.3zM656.31 290.21h1.3v1.3h-1.3zM657.6 291.5h1.3v0.95h-1.3zM658.89 290.21h1.3v1.3h-1.3zM660.19 288.92h1.3v1.3h-1.3zM661.48 290.21h0.27v1.3h-0.27z" fill="#000"/>
<path d="M637.95 292.45V239.55H661.75V292.45" fill="none" stroke="#000" stroke-width="1.1" stroke-linejoin="round"/>
<rect x="54.2" y="292.30" width="630.10" height="1.15" fill="#d9d9d9"/>
<text class="ax" x="39.2" y="13.10" text-anchor="end" textLength="37.9" lengthAdjust="spacingAndGlyphs">80.0%</text>
<text class="ax" x="39.2" y="48.65" text-anchor="end" textLength="37.9" lengthAdjust="spacingAndGlyphs">70.0%</text>
<text class="ax" x="39.2" y="84.20" text-anchor="end" textLength="37.9" lengthAdjust="spacingAndGlyphs">60.0%</text>
<text class="ax" x="39.2" y="119.75" text-anchor="end" textLength="37.9" lengthAdjust="spacingAndGlyphs">50.0%</text>
<text class="ax" x="39.2" y="155.30" text-anchor="end" textLength="37.9" lengthAdjust="spacingAndGlyphs">40.0%</text>
<text class="ax" x="39.2" y="190.85" text-anchor="end" textLength="37.9" lengthAdjust="spacingAndGlyphs">30.0%</text>
<text class="ax" x="39.2" y="226.40" text-anchor="end" textLength="37.9" lengthAdjust="spacingAndGlyphs">20.0%</text>
<text class="ax" x="39.2" y="261.95" text-anchor="end" textLength="37.9" lengthAdjust="spacingAndGlyphs">10.0%</text>
<text class="ax" x="39.2" y="297.50" text-anchor="end" textLength="30.0" lengthAdjust="spacingAndGlyphs">0.0%</text>
<text class="cat" x="132.9" y="320" text-anchor="middle" textLength="115.8" lengthAdjust="spacingAndGlyphs">Unascertainable</text>
<text class="cat" x="290.2" y="320" text-anchor="middle" textLength="64.4" lengthAdjust="spacingAndGlyphs">Negative</text>
<text class="cat" x="447.7" y="320" text-anchor="middle" textLength="53.4" lengthAdjust="spacingAndGlyphs">Neutral</text>
<text class="cat" x="605.2" y="320" text-anchor="middle" textLength="58.4" lengthAdjust="spacingAndGlyphs">Positive</text>
<rect x="139.3" y="345.4" width="8.3" height="7.8" fill="#fff"/>
<path d="M141.87 345.4h1.39v0.06h-1.39zM147.05 349.23h0.55v1.39h-0.55z" fill="#000"/>
<rect x="139.3" y="345.4" width="8.3" height="7.8" fill="none" stroke="#000" stroke-width="1.2"/>
<text class="leg" x="151.6" y="354.8" textLength="92.8" lengthAdjust="spacingAndGlyphs">China-central</text>
<rect x="265.4" y="345.4" width="8.3" height="7.8" fill="#fff"/>
<clipPath id="c3"><rect x="265.4" y="345.4" width="8.3" height="7.8"/></clipPath>
<path clip-path="url(#c3)" d="M248.7 343.4L250.04 343.4L261.84 355.2L260.5 355.2zM253.87 343.4L255.22 343.4L267.02 355.2L265.67 355.2zM259.05 343.4L260.39 343.4L272.19 355.2L270.85 355.2zM264.22 343.4L265.56 343.4L277.36 355.2L276.02 355.2zM269.39 343.4L270.73 343.4L282.53 355.2L281.19 355.2zM274.56 343.4L275.91 343.4L287.71 355.2L286.36 355.2zM279.74 343.4L281.08 343.4L292.88 355.2L291.54 355.2z" fill="#000"/>
<rect x="265.4" y="345.4" width="8.3" height="7.8" fill="none" stroke="#000" stroke-width="1.2"/>
<text class="leg" x="277.6" y="354.8" textLength="79.4" lengthAdjust="spacingAndGlyphs">China-local</text>
<rect x="377.9" y="345.4" width="8.3" height="7.8" fill="#fff"/>
<path d="M379.78 345.4h1.45v3.8h-1.45zM384.95 349.04h1.25v4.16h-1.25z" fill="#000"/>
<rect x="377.9" y="345.4" width="8.3" height="7.8" fill="none" stroke="#000" stroke-width="1.2"/>
<text class="leg" x="390.5" y="354.8" textLength="74.5" lengthAdjust="spacingAndGlyphs">US-federal</text>
<rect x="485.9" y="345.4" width="8.3" height="7.8" fill="#fff"/>
<path d="M488.2 345.4h1.3v0.24h-1.3zM485.9 345.4h1.02v0.24h-1.02zM493.37 345.4h0.83v0.24h-0.83zM490.79 345.4h1.3v0.24h-1.3zM485.9 346.91h1.02v1.3h-1.02zM486.91 348.2h1.3v1.3h-1.3zM488.2 349.49h1.3v1.3h-1.3zM488.2 346.91h1.3v1.3h-1.3zM485.9 349.49h1.02v1.3h-1.02zM489.49 345.63h1.3v1.3h-1.3zM490.79 346.91h1.3v1.3h-1.3zM492.08 348.2h1.3v1.3h-1.3zM493.37 349.49h0.83v1.3h-0.83zM493.37 346.91h0.83v1.3h-0.83zM490.79 349.49h1.3v1.3h-1.3zM485.9 352.07h1.02v1.13h-1.02zM488.2 352.07h1.3v1.13h-1.3zM489.49 350.78h1.3v1.3h-1.3zM490.79 352.07h1.3v1.13h-1.3zM493.37 352.07h0.83v1.13h-0.83z" fill="#000"/>
<rect x="485.9" y="345.4" width="8.3" height="7.8" fill="none" stroke="#000" stroke-width="1.2"/>
<text class="leg" x="498.7" y="354.8" textLength="60.0" lengthAdjust="spacingAndGlyphs">US-local</text>
</svg></body></html>
